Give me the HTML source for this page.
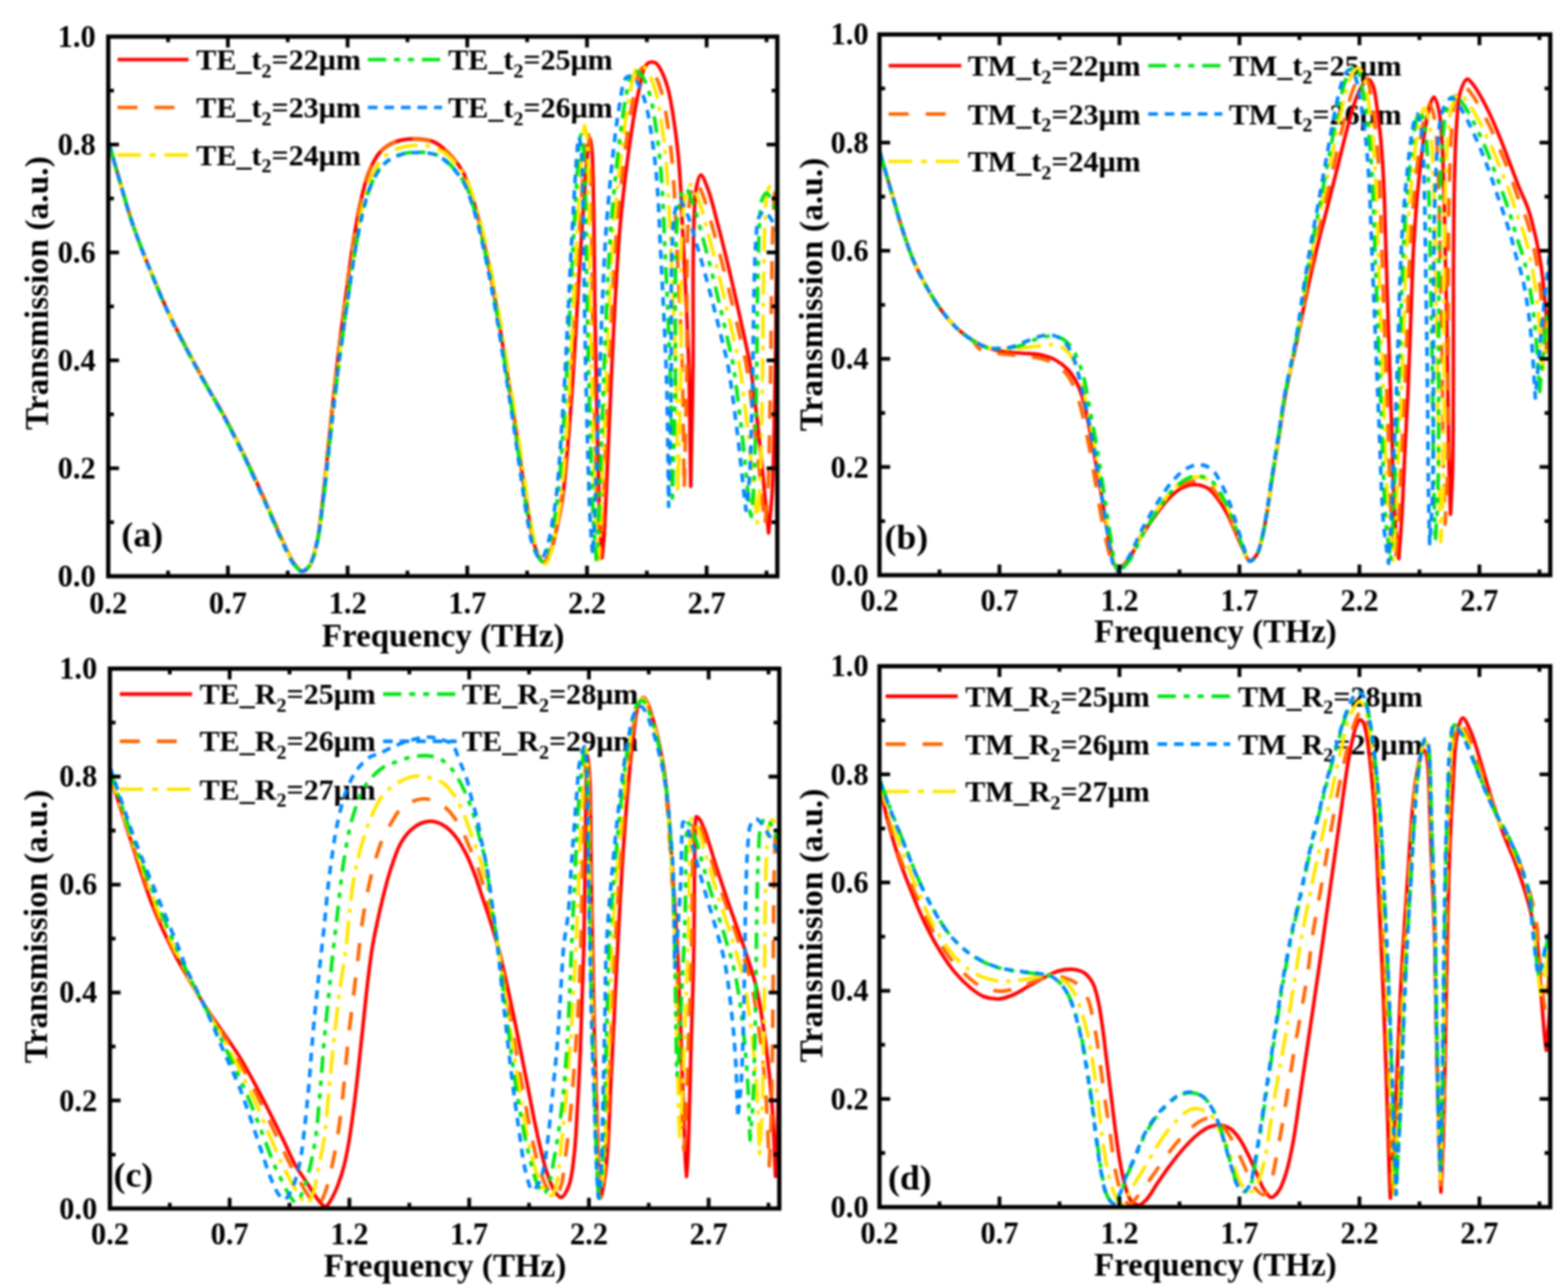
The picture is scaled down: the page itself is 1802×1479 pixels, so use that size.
<!DOCTYPE html>
<html lang="en">
<head>
<meta charset="utf-8">
<title>Transmission spectra: TE and TM modes versus t2 and R2</title>
<style>
html,body{margin:0;padding:0;background:#fff;}
body{width:1802px;height:1479px;overflow:hidden;}
svg{display:block;filter:blur(0.8px);}
</style>
</head>
<body>
<svg width="1802" height="1479" viewBox="0 0 1802 1479" role="img" aria-label="Transmission spectra, four panels (a)-(d)">
<defs>
<clipPath id="cpa"><rect x="124.4" y="40.1" width="768.9" height="624.1"/></clipPath>
<clipPath id="cpb"><rect x="1010.7" y="37.6" width="770.9" height="625.4"/></clipPath>
<clipPath id="cpc"><rect x="126.3" y="766.4" width="769.3" height="624.4"/></clipPath>
<clipPath id="cpd"><rect x="1010.7" y="763.6" width="770.9" height="625.6"/></clipPath>
</defs>
<rect width="1802" height="1479" fill="#fff"/>
<g id="panel-a">
<g id="legend-a">
<path d="M135 68.5H216.7" stroke="#ff0000" stroke-width="4.2" fill="none"/>
<text x="225.6" y="80.1" font-family="'Liberation Serif',serif" font-weight="bold" font-size="34.6" fill="#000">TE_t<tspan font-size="23" dy="8.5">2</tspan><tspan dy="-8.5">=22μm</tspan></text>
<path d="M135 123.5H216.7" stroke="#ff6600" stroke-width="4.2" fill="none" stroke-dasharray="23 19.5"/>
<text x="225.6" y="135.1" font-family="'Liberation Serif',serif" font-weight="bold" font-size="34.6" fill="#000">TE_t<tspan font-size="23" dy="8.5">2</tspan><tspan dy="-8.5">=23μm</tspan></text>
<path d="M135 178.1H216.7" stroke="#ffe600" stroke-width="4.2" fill="none" stroke-dasharray="27 10 7 10"/>
<text x="225.6" y="189.7" font-family="'Liberation Serif',serif" font-weight="bold" font-size="34.6" fill="#000">TE_t<tspan font-size="23" dy="8.5">2</tspan><tspan dy="-8.5">=24μm</tspan></text>
<path d="M422.8 68.5H508" stroke="#00e614" stroke-width="4.2" fill="none" stroke-dasharray="21 9 7 9 7 9"/>
<text x="515" y="80.1" font-family="'Liberation Serif',serif" font-weight="bold" font-size="34.6" fill="#000">TE_t<tspan font-size="23" dy="8.5">2</tspan><tspan dy="-8.5">=25μm</tspan></text>
<path d="M422.8 123.5H508" stroke="#0088ff" stroke-width="4.2" fill="none" stroke-dasharray="11 8"/>
<text x="515" y="135.1" font-family="'Liberation Serif',serif" font-weight="bold" font-size="34.6" fill="#000">TE_t<tspan font-size="23" dy="8.5">2</tspan><tspan dy="-8.5">=26μm</tspan></text>
</g>
<g clip-path="url(#cpa)" fill="none" stroke-width="4.1" stroke-linejoin="round">
<path d="M125 164C129.2 178.5 133.3 193.1 137.5 207.5C141.6 221.8 145.6 236.6 150 250C154 262.3 158.2 273.7 162.5 285C166.6 295.7 170.4 305 175 316C180.3 328.7 185.3 341.8 192.5 357C201.9 377 215.8 403.4 227.5 425C238.3 445.1 250.1 463.9 260 482.5C269.1 499.6 276.8 515.4 285 532.5C293.5 550.3 302.5 570.6 310 587.5C316.4 601.9 322.1 616.3 327.5 627.5C331.6 635.9 335 643.9 339 649C341.7 652.5 344.6 656.4 347.5 656.5C350.3 656.6 353.6 653.5 356 650C360 644.3 362.1 633.6 364.5 622.5C368 606.5 369.8 583.6 372.3 562.5C375 538.9 377.4 512.4 380 487.5C382.6 462.9 385.5 435.1 388 414C389.9 398 391.4 385.8 393.2 372C394.9 358.7 396.5 346.7 398.4 332.8C400.5 317 402.8 298.6 405.4 282C407.9 266 410.5 249.5 413.8 234.8C416.8 221.6 419.5 208.4 424 197.6C427.7 188.6 431.9 179.9 437.5 174C442.3 168.9 448.2 165.4 454.4 163C460.6 160.6 467.6 159.7 474.6 159.6C482.2 159.5 491.4 160.1 498.3 163C504.8 165.7 509.9 170.4 515.2 175.6C521.3 181.6 527.5 189.5 532 197.6C536.6 205.8 539.1 215.3 542.2 224.6C545.4 234.4 548 244.3 550.7 255C553.6 266.7 556.3 279.3 559 292C561.8 305.2 564.5 319.5 567 332.8C569.3 345.5 571.2 356.3 573.5 370C576.3 387 579.4 407.5 582.5 427C585.7 447.5 589.3 469.4 592.4 490C595.4 509.9 598 529.6 600.8 548.6C603.5 566.6 606.2 586.1 609 601C611.1 612.1 612.2 622 615.4 630C617.9 636.4 621.9 646 625 646C628.1 646 631.5 636.3 634 630C637.1 622.1 638.9 611.7 641 602C643.2 591.6 645 583.5 646.9 569.5C650.3 544.6 653.6 499.7 656.3 464.8C659 429.9 661.2 390.1 663 360C664.4 337.2 665.3 319.1 666.5 300C667.6 282.6 668.6 266.8 669.8 250C671 232.8 672.3 212.7 673.5 198C674.4 187.2 675 177.2 676 170C676.6 165.5 677.3 159 678 159C678.7 159 679.6 166.7 680.2 172C681.1 180.3 681.2 191.8 681.6 204C682.1 220.1 682.3 238.6 682.6 260C683 288.5 683.2 323.5 683.8 360C684.5 404.2 685.6 463.3 686.7 506.7C687.6 541.3 688.4 575.2 689.5 600C690.2 616.4 691.2 627.3 692 641C692.8 632.3 693.6 624.9 694.3 615C695.2 601.9 695.7 587.8 696.6 569.5C697.9 541.8 699.6 499.7 701.2 464.8C702.8 429.9 704.3 394.5 706.2 360C708.1 326.3 709.9 290.5 712.6 260C714.9 234.2 717.6 211.4 720.5 188.7C723.2 167.9 726.5 145.4 729.3 129C731.3 117.4 733.2 108.5 735.2 99.5C736.9 91.9 738.1 83.2 740.3 78.5C741.6 75.8 742.9 73.8 744.6 72.6C746 71.6 747.7 71.2 749.3 71.2C750.9 71.2 752.6 71.6 754 72.6C755.7 73.8 757 75.8 758.5 78.5C761.2 83.2 764.7 91.8 767 99.5C769.7 108.4 771.2 118.1 773 129C775.2 142.4 777.4 158.9 779 173.9C780.6 188.8 781.5 203.8 782.4 218.5C783.3 232.8 783.5 244.6 784.3 261C785.4 283.7 787.2 315.3 788.4 342C789.6 368.2 790.8 393.8 791.6 420C792.4 446.5 792.6 475.4 793 500C793.3 521.2 793.5 539.3 793.8 559C794.3 532.7 794.9 504.5 795.4 480C795.8 458.6 796.2 444.8 796.5 420C797 379.7 795.9 298.3 797.3 261C798.1 240.7 798.3 224.7 800.6 214C801.8 208.2 803.4 201.1 805.4 201C807.6 200.9 810.9 210.3 813.5 217C817.5 227.4 821.3 244 825 258C828.9 272.6 832.6 287.7 836.3 303C840.1 319 844 336.1 847.6 352C851 367.1 854.7 383.5 857.3 396C859.3 405.2 860.5 409.3 862.2 420C865.6 440.9 870.5 485.1 873.6 513.6C876.2 537.6 878.2 561.8 880 580C881.3 592.7 882.2 601.7 883.3 612.5C884.7 596.5 886.4 582.3 887.5 564.5C888.8 542.1 889.2 515 889.8 488.5C890.5 459.3 891.1 424.9 891.5 396.5C891.9 372.1 891.8 351.8 892.3 328.5C892.9 303.9 893.3 272.4 894.6 252.5C895.5 239.5 895.2 227.4 898 220.5C899.6 216.6 902.1 212.5 904.3 212.5C906.7 212.5 909.6 218.1 912 222C915 226.9 917.3 234 920 240" stroke="#ff0000"/>
<path d="M125 164C129.2 178.5 133.3 193.1 137.5 207.5C141.6 221.8 145.6 236.6 150 250C154 262.3 158.2 273.7 162.5 285C166.5 295.7 170.4 305 175 316C180.2 328.7 185.3 341.8 192.4 357C201.8 377 215.8 403.4 227.4 425C238.2 445.1 250 463.9 259.9 482.5C269 499.6 276.7 515.4 284.9 532.5C293.4 550.3 302.3 570.6 309.8 587.5C316.2 601.9 321.9 616.3 327.3 627.5C331.4 635.9 334.8 643.9 338.8 649C341.5 652.5 344.4 656.4 347.3 656.5C350.1 656.6 353.4 653.5 355.8 650C359.8 644.3 361.9 633.6 364.3 622.5C367.8 606.5 369.6 583.7 372.1 562.6C374.8 539 377.1 512.5 379.8 487.6C382.4 463 385.3 435.3 387.8 414.2C389.6 398.3 391.2 386 393 372.2C394.7 358.9 396.3 347 398.2 333.1C400.3 317.2 402.5 298.9 405.2 282.3C407.7 266.3 410.2 249.9 413.5 235.1C416.5 221.9 419.3 208.7 423.7 198C427.5 188.9 431.6 180.3 437.2 174.4C442 169.3 448 165.8 454.1 163.4C460.3 161 467.3 160.1 474.3 160C481.9 159.9 491.2 160.5 498.1 163.4C504.7 166.1 509.8 170.8 515.1 176C521.2 182 527.5 190 532 198C536.6 206.3 539.2 215.7 542.3 225.1C545.5 234.9 548.1 244.8 550.8 255.5C553.8 267.2 556.5 279.9 559.1 292.6C561.9 305.8 564.7 320.1 567.2 333.4C569.6 346.1 571.4 356.9 573.7 370.7C576.6 387.7 579.7 408.2 582.8 427.7C586 448.2 589.6 470.2 592.7 490.8C595.7 510.7 598.3 530.5 601.2 549.5C603.9 567.5 606.6 587.1 609.4 601.9C611.5 613.1 612.6 622.9 615.8 631C618.4 637.4 622.5 647.1 625.5 647C628.5 646.9 631.6 637 633.9 630.7C636.8 622.6 638.5 612 640.4 602.1C642.5 591.5 644.2 583.2 646 568.9C649.1 543.5 652.2 497.7 654.7 462.1C657.2 426.5 659.3 385.8 661 355.1C662.3 331.9 663.2 313.4 664.3 293.9C665.3 276.1 666.3 260 667.3 242.9C668.4 225.4 669.7 204.8 670.8 189.8C671.6 178.8 672.2 168.6 673.1 161.2C673.7 156.6 674.3 150 675 150C675.7 150 676.7 157.8 677.3 163.3C678.2 171.7 678.3 183.5 678.7 195.9C679.2 212.3 679.4 231.3 679.8 253.1C680.2 282.2 680.4 317.9 681 355.2C681.7 400.3 682.9 460.6 684 504.9C684.9 540.2 685.7 574.8 686.9 600.1C687.7 616.9 688.6 628 689.5 642C690.2 633.4 691 626 691.6 616.2C692.5 603.2 693 589.2 693.8 571C695 543.5 696.5 501.7 698 467.1C699.5 432.4 700.9 397.3 702.7 363.1C704.4 329.6 706.1 294.1 708.6 263.8C710.7 238.2 713.2 215.6 715.9 193C718.4 172.4 721.4 150.1 724.1 133.8C725.9 122.3 727.7 113.4 729.5 104.5C731.1 96.9 732.2 88.3 734.3 83.6C735.4 80.9 736.7 79 738.2 77.8C739.5 76.8 741.1 76.4 742.6 76.4C744.1 76.4 745.8 76.8 747.2 77.8C748.9 79 750.1 81 751.6 83.7C754.3 88.4 757.7 96.9 760 104.6C762.6 113.5 764.1 123.2 765.9 134.1C768.1 147.4 770.2 163.9 771.8 178.8C773.3 193.7 774.2 208.7 775.1 223.3C776 237.6 776.2 249.3 777 265.7C778 288.4 779.8 319.9 781 346.5C782.2 372.7 783.4 398.2 784.1 424.3C784.9 450.8 785.1 479.6 785.5 504.1C785.8 525.3 786 543.4 786.3 563C786.9 537 787.6 509.1 788.1 484.9C788.6 463.7 789 450.1 789.4 425.6C789.9 385.7 788.7 305.2 790.3 268.3C791.2 248.2 791.4 232.4 794 221.9C795.5 216.1 797.4 209.1 799.5 209C801.9 208.9 805.1 217.9 807.8 224.4C811.9 234.3 815.7 250.3 819.6 263.7C823.5 277.7 827.3 292.2 831.1 306.9C835 322.2 839 338.7 842.7 353.9C846.1 368.4 849.9 384.2 852.6 396.2C854.6 405 855.8 409 857.6 419.2C861.1 439.3 866.1 481.7 869.3 509.1C872 532.1 874 555.3 875.8 572.8C877.1 585 878.1 593.6 879.2 604C880.4 588.2 881.9 574.1 882.8 556.5C883.9 534.3 884.2 507.5 884.7 481.2C885.3 452.3 885.8 418.2 886.1 390.2C886.5 366 886.4 345.9 886.9 322.8C887.3 298.5 887.7 267.3 888.8 247.6C889.6 234.8 889.2 222.8 891.7 215.9C893 212.2 895.1 208 897 208C899 208 901.4 213.6 903.4 217.3C905.9 222.2 907.8 229.1 910 235" stroke="#ff6600" stroke-dasharray="21 19"/>
<path d="M125 164C129.2 178.5 133.3 193.1 137.5 207.5C141.6 221.8 145.6 236.6 149.9 250C153.9 262.3 158.1 273.7 162.4 285C166.5 295.7 170.3 305 174.9 316C180.2 328.7 185.2 341.8 192.3 357C201.7 377 215.6 403.4 227.3 425C238.1 445.1 249.8 463.9 259.7 482.5C268.8 499.6 276.5 515.4 284.6 532.5C293.1 550.3 302.1 570.6 309.6 587.5C316 601.9 321.6 616.3 327 627.5C331.1 635.9 334.5 643.9 338.5 649C341.3 652.5 344.1 656.4 347 656.5C349.9 656.6 353.3 653.6 355.8 650.1C359.9 644.5 362.2 633.9 364.7 623C368.3 607.2 370.2 584.7 372.8 563.9C375.6 540.7 378 514.5 380.8 490C383.5 465.8 386.5 438.4 389.1 417.6C391 401.9 392.6 389.8 394.5 376.2C396.2 363.1 397.9 351.3 399.9 337.6C402.1 322 404.4 303.9 407.1 287.6C409.8 271.8 412.4 255.6 415.9 241.1C419 228.1 421.8 215 426.4 204.4C430.3 195.5 434.7 187 440.5 181.2C445.5 176.1 451.7 172.7 458 170.3C464.5 167.9 471.8 167.1 479 167C486.5 166.9 495.5 167.5 502.2 170.4C508.6 173 513.6 177.7 518.8 182.8C524.8 188.7 530.9 196.6 535.3 204.6C539.8 212.7 542.3 222 545.3 231.3C548.4 240.9 551 250.8 553.6 261.3C556.5 272.9 559.2 285.4 561.8 297.9C564.5 311 567.2 325.1 569.6 338.3C571.9 350.8 573.8 361.5 576 375.1C578.8 391.8 581.8 412.2 584.8 431.4C588 451.7 591.5 473.3 594.5 493.7C597.5 513.4 600 532.9 602.8 551.7C605.4 569.4 608.1 588.8 610.8 603.5C612.9 614.5 613.9 624.2 617.1 632.2C619.6 638.5 623.6 648.1 626.5 648C629.4 647.9 632.1 637.9 634.2 631.4C636.9 623.3 638.4 612.5 640.2 602.5C642.2 591.7 643.7 583.3 645.3 568.8C648.2 543 651.1 496.6 653.4 460.5C655.7 424.3 657.5 383.2 659.1 352C660.3 328.5 661.1 309.7 662.1 289.9C663.1 271.9 664 255.6 665 238.2C666 220.4 667.1 199.5 668.1 184.4C668.9 173.2 669.4 162.8 670.3 155.4C670.8 150.7 671.3 144 672 144C672.7 144 673.8 152 674.4 157.5C675.4 166 675.6 178 676 190.6C676.5 207.2 676.7 226.5 677.1 248.6C677.6 278.1 677.8 314.3 678.4 352.1C679.2 397.9 680.4 459 681.6 504C682.6 539.8 683.5 574.9 684.7 600.6C685.6 617.6 686.6 628.9 687.5 643C688.2 634.4 688.9 627 689.5 617.1C690.3 604.2 690.7 590.1 691.4 571.9C692.6 544.3 694 502.5 695.4 467.8C696.8 433.1 698 397.9 699.7 363.6C701.3 330 702.9 294.5 705.2 264.1C707.1 238.5 709.5 215.8 712 193.2C714.3 172.6 717.1 150.2 719.5 133.9C721.3 122.4 722.9 113.5 724.6 104.5C726 97 727.1 88.4 729 83.7C730.1 81 731.2 79 732.7 77.8C733.8 76.9 735.3 76.4 736.7 76.4C738.1 76.4 739.8 76.8 741.2 77.8C742.8 79 744 81 745.4 83.7C748 88.5 751.3 97.1 753.5 104.9C756.1 113.9 757.5 123.6 759.2 134.6C761.4 148.1 763.4 164.7 764.9 179.8C766.4 194.8 767.3 209.9 768.2 224.7C769 239.1 769.2 250.9 770 267.5C771 290.3 772.7 322.1 773.9 349C775 375.5 776.2 401.2 776.9 427.6C777.6 454.2 777.9 483.3 778.2 508.1C778.6 529.4 778.7 547.7 779 567.5C779.7 541.4 780.5 513.4 781.1 489.1C781.6 467.8 782.1 454.1 782.5 429.5C783.1 389.4 781.7 308.6 783.5 271.6C784.5 251.4 784.9 235.5 787.8 224.9C789.4 219.1 791.8 212 794 212C796.4 212 799.4 220.8 801.9 227.1C805.9 236.9 809.6 252.6 813.2 265.9C817 279.7 820.6 293.9 824.3 308.4C828 323.5 831.8 339.7 835.3 354.7C838.7 369 842.2 384.5 844.8 396.3C846.7 405 847.9 408.9 849.6 419C853 438.8 857.7 480.5 860.8 507.5C863.4 530.2 865.3 553.1 867.1 570.3C868.3 582.3 869.2 590.8 870.3 601C871.4 585.4 872.8 571.7 873.6 554.3C874.7 532.5 875 506.2 875.5 480.4C876 452 876.5 418.5 876.8 390.9C877.1 367.2 877.1 347.5 877.5 324.8C877.9 300.9 878.2 270.3 879.3 250.9C880 238.3 879.7 226.5 882 219.8C883.2 216.1 885.2 212 887 212C889 212 891.4 217.8 893.4 221.7C895.9 226.7 897.8 233.9 900 240" stroke="#ffe600" stroke-dasharray="27 9 5 9"/>
<path d="M125 164C129.2 178.5 133.3 193.1 137.5 207.5C141.6 221.8 145.6 236.6 149.9 250C153.9 262.3 158.1 273.7 162.4 285C166.4 295.7 170.3 305 174.8 316C180.1 328.7 185.1 341.8 192.3 357C201.6 377 215.5 403.4 227.1 425C237.9 445.1 249.6 463.9 259.5 482.5C268.6 499.6 276.3 515.4 284.4 532.5C292.9 550.3 301.8 570.6 309.3 587.5C315.7 601.9 321.4 616.3 326.8 627.5C330.8 635.9 334.2 643.9 338.2 649C341 652.5 343.8 656.3 346.7 656.5C349.6 656.7 353.1 653.6 355.6 650.2C359.7 644.7 362 634.3 364.5 623.5C368.1 608 370.1 585.9 372.7 565.4C375.5 542.5 378 516.8 380.7 492.7C383.4 468.8 386.5 441.9 389.1 421.4C391 406 392.7 394 394.5 380.7C396.3 367.8 398 356.2 400 342.7C402.2 327.3 404.5 309.5 407.3 293.5C409.9 277.9 412.6 262 416.1 247.7C419.2 234.9 422.1 222 426.8 211.6C430.7 202.8 435.1 194.5 440.9 188.8C445.9 183.7 452.2 180.4 458.6 178.1C465.1 175.7 472.5 174.8 479.7 174.8C487.1 174.8 495.7 175.3 502.3 178.1C508.5 180.7 513.4 185.2 518.4 190.3C524.2 196.1 530.1 203.7 534.4 211.5C538.8 219.5 541.2 228.6 544.1 237.6C547.2 247.1 549.6 256.7 552.2 267C555 278.3 557.6 290.6 560.1 302.8C562.8 315.6 565.4 329.4 567.7 342.2C570 354.5 571.8 364.9 573.9 378.2C576.6 394.6 579.6 414.5 582.5 433.3C585.6 453.1 589 474.3 591.9 494.2C594.8 513.4 597.2 532.5 599.9 550.8C602.5 568.2 605.1 587.1 607.8 601.5C609.8 612.3 610.8 621.8 613.9 629.5C616.3 635.7 620.2 645.1 623 645C625.8 644.9 628.5 635.2 630.6 628.9C633.2 620.9 634.7 610.5 636.4 600.7C638.3 590.3 639.8 582.1 641.4 568C644.2 542.9 647 497.8 649.3 462.7C651.5 427.6 653.4 387.5 654.9 357.2C656.1 334.3 656.8 316.1 657.8 296.9C658.8 279.3 659.6 263.5 660.6 246.6C661.6 229.3 662.7 209 663.7 194.2C664.4 183.4 665 173.3 665.8 166.1C666.3 161.5 666.8 155 667.5 155C668.3 155 669.6 162.8 670.3 168.2C671.4 176.5 671.6 188.3 672.1 200.6C672.7 216.8 672.9 235.6 673.3 257.3C673.9 286.1 674.1 321.5 674.9 358.5C675.8 403.3 677.2 463.1 678.6 507C679.7 542.1 680.7 576.4 682.1 601.5C683.1 618.1 684.2 629.2 685.3 643C685.9 634.5 686.6 627.1 687.1 617.4C687.8 604.6 688.3 590.6 688.9 572.7C690 545.4 691.3 504 692.6 469.6C693.9 435.3 695 400.5 696.6 366.5C698 333.4 699.5 298.2 701.6 268.2C703.4 242.8 705.6 220.3 707.9 198C710 177.5 712.6 155.4 714.9 139.3C716.4 127.9 718 119.1 719.5 110.2C720.9 102.8 721.8 94.3 723.6 89.6C724.6 86.9 725.6 85 727 83.8C728.1 82.9 729.4 82.4 730.7 82.4C732.1 82.4 733.8 82.9 735.1 83.8C736.8 85 737.9 87.1 739.4 89.8C741.9 94.6 745.2 103.3 747.4 111.2C749.9 120.2 751.3 130.1 753 141.1C755.1 154.7 757.2 171.5 758.7 186.7C760.1 201.9 761 217.1 761.9 232.1C762.7 246.6 762.9 258.5 763.7 275.2C764.7 298.3 766.4 330.4 767.5 357.5C768.6 384.2 769.8 410.2 770.5 436.8C771.3 463.7 771.5 493 771.8 518.1C772.2 539.6 772.3 558 772.6 578C773.3 551.4 774 522.9 774.7 498.1C775.2 476.5 775.7 462.5 776.1 437.4C776.7 396.7 775.3 314.4 777.1 276.7C778.1 256.1 778.4 239.9 781.3 229.1C782.9 223.2 785.3 216.1 787.5 216C789.9 215.9 792.8 224.6 795.4 230.9C799.3 240.5 802.9 255.9 806.5 268.9C810.3 282.5 813.9 296.4 817.4 310.7C821.2 325.5 824.9 341.4 828.4 356.2C831.7 370.1 835.2 385.4 837.8 397C839.7 405.6 840.9 409.4 842.6 419.3C845.8 438.7 850.6 479.7 853.6 506.2C856.1 528.5 858.1 550.9 859.8 567.8C861 579.7 861.9 587.9 863 598C864.2 583 865.7 569.7 866.6 552.9C867.7 531.8 868 506.4 868.6 481.4C869.2 454 869.6 421.6 870 395C870.3 372 870.3 352.9 870.7 331C871.2 307.9 871.6 278.3 872.7 259.6C873.5 247.4 873.2 236 875.6 229.5C876.9 225.9 879.1 222 881 222C883.3 222.1 886.1 228.8 888.4 233.4C891.3 239.3 893.5 247.8 896 255" stroke="#00e614" stroke-dasharray="19 9 6 9 6 9"/>
<path d="M125 164C129.1 178.5 133.3 193.1 137.4 207.5C141.6 221.8 145.5 236.6 149.9 250C153.9 262.3 158.1 273.7 162.3 285C166.4 295.7 170.2 305 174.8 316C180 328.7 185.1 341.8 192.2 357C201.5 377 215.4 403.4 227 425C237.8 445.1 249.5 463.9 259.4 482.5C268.5 499.6 276.1 515.4 284.3 532.5C292.7 550.3 301.7 570.6 309.2 587.5C315.5 601.9 321.2 616.3 326.6 627.5C330.6 635.9 334 643.9 338 649C340.8 652.5 343.6 656.3 346.5 656.5C349.4 656.7 352.9 653.6 355.4 650.2C359.5 644.7 361.8 634.3 364.3 623.6C368 608.1 369.9 585.9 372.5 565.5C375.4 542.6 377.8 516.9 380.6 492.8C383.3 469 386.4 442 388.9 421.6C390.9 406.2 392.5 394.3 394.4 380.9C396.2 368.1 397.9 356.4 399.8 343C402.1 327.6 404.4 309.8 407.2 293.8C409.8 278.2 412.5 262.3 416 248C419.1 235.2 422 222.4 426.7 212C430.6 203.2 435 194.9 440.8 189.1C445.9 184.1 452.1 180.8 458.5 178.5C465.1 176.1 472.5 175.2 479.7 175.2C487.1 175.2 495.5 175.7 502.1 178.5C508.2 181 513 185.6 518 190.6C523.8 196.4 529.7 204 533.9 211.7C538.2 219.7 540.6 228.7 543.5 237.7C546.5 247.1 549 256.7 551.5 267C554.3 278.2 556.9 290.4 559.4 302.5C562 315.3 564.6 329 566.9 341.8C569.2 354 570.9 364.4 573.1 377.6C575.7 393.9 578.7 413.6 581.6 432.4C584.6 452.1 588 473.1 590.9 493C593.7 512.1 596.2 531.1 598.9 549.3C601.4 566.6 603.9 585.4 606.6 599.7C608.6 610.4 609.6 619.9 612.6 627.6C615 633.7 618.9 643.1 621.7 643C624.4 642.9 627.1 633.2 629.1 627C631.7 619.2 633.1 608.8 634.9 599.1C636.7 588.8 638.2 580.6 639.7 566.7C642.5 541.9 645.2 497.2 647.4 462.4C649.7 427.6 651.4 387.9 653 357.9C654.1 335.2 654.9 317.1 655.8 298.1C656.7 280.7 657.6 265 658.6 248.2C659.5 231.1 660.6 211 661.6 196.4C662.3 185.6 662.9 175.6 663.7 168.5C664.2 164 664.7 157.5 665.3 157.5C666 157.5 667.1 165.1 667.8 170.4C668.8 178.7 668.9 190.2 669.3 202.3C669.9 218.3 670.1 236.7 670.5 258C670.9 286.4 671.2 321.1 671.8 357.5C672.6 401.5 673.8 460.2 675.1 503.4C676 537.8 676.9 571.6 678.2 596.2C679 612.6 680.1 623.4 681 637C681.6 628.6 682.2 621.5 682.7 611.9C683.4 599.3 683.8 585.7 684.4 568.1C685.4 541.3 686.6 500.8 687.8 467.1C689 433.4 690.1 399.3 691.5 366.1C692.9 333.5 694.2 299.1 696.2 269.6C697.9 244.8 699.9 222.8 702 200.9C704 180.8 706.4 159.2 708.5 143.3C710 132.2 711.4 123.6 712.9 114.9C714.1 107.6 715 99.2 716.7 94.6C717.6 92.1 718.5 90.1 719.8 88.9C720.8 88.1 722 87.7 723.3 87.6C724.8 87.5 726.6 88 728.1 89C729.8 90.2 731.1 92.3 732.6 95C735.4 99.8 738.9 108.5 741.2 116.3C744 125.3 745.5 135.1 747.3 146.2C749.6 159.7 751.8 176.5 753.4 191.7C755 206.8 755.9 222 756.8 236.9C757.7 251.4 758 263.3 758.8 280C759.9 303 761.7 335 762.9 362.1C764.1 388.7 765.4 414.6 766.2 441.1C767 468 767.2 497.2 767.6 522.2C767.9 543.6 768.1 562.1 768.4 582C769 556.1 769.6 528.4 770.1 504.3C770.6 483.3 771 469.7 771.3 445.3C771.8 405.7 770.7 325.7 772.2 289C773 269 773.3 253.3 775.8 242.8C777.1 237.1 778.9 230.1 781 230C783.2 229.9 786.4 238 788.9 243.9C792.9 252.8 796.5 267.2 800.2 279.4C804 292.1 807.6 305.1 811.3 318.4C815 332.2 818.8 347.1 822.3 360.9C825.7 373.9 829.2 388.2 831.8 399C833.7 406.9 834.9 410.5 836.6 419.8C840 437.9 844.7 476.2 847.8 500.9C850.4 521.7 852.3 542.6 854.1 558.4C855.3 569.5 856.2 577.2 857.3 586.6C858.7 572.9 860.5 560.7 861.5 545.4C862.8 526.1 863.2 502.9 863.8 480.1C864.6 455 865.1 425.4 865.5 401.1C865.9 380.1 865.9 362.7 866.4 342.6C866.9 321.5 867.3 294.5 868.7 277.4C869.6 266.2 869.4 255.7 872.1 249.9C873.6 246.5 876.2 243 878.4 243C880.8 243 883.7 248.1 886.1 251.6C889 256.1 891.4 262.5 894 268" stroke="#0088ff" stroke-dasharray="10 8"/>
</g>
<path d="M193.2 662.2v-6.5M193.2 42.1v6.5M261.9 662.2v-12.3M261.9 42.1v12.3M330.7 662.2v-6.5M330.7 42.1v6.5M399.5 662.2v-12.3M399.5 42.1v12.3M468.3 662.2v-6.5M468.3 42.1v6.5M537 662.2v-12.3M537 42.1v12.3M605.8 662.2v-6.5M605.8 42.1v6.5M674.6 662.2v-12.3M674.6 42.1v12.3M743.4 662.2v-6.5M743.4 42.1v6.5M812.1 662.2v-12.3M812.1 42.1v12.3M880.9 662.2v-6.5M880.9 42.1v6.5M124.4 600.2h6.5M893.3 600.2h-6.5M124.4 538.2h12.3M893.3 538.2h-12.3M124.4 476.2h6.5M893.3 476.2h-6.5M124.4 414.2h12.3M893.3 414.2h-12.3M124.4 352.2h6.5M893.3 352.2h-6.5M124.4 290.1h12.3M893.3 290.1h-12.3M124.4 228.1h6.5M893.3 228.1h-6.5M124.4 166.1h12.3M893.3 166.1h-12.3M124.4 104.1h6.5M893.3 104.1h-6.5" stroke="#000" stroke-width="4.3" fill="none"/>
<rect x="124.4" y="42.1" width="768.9" height="620.1" fill="none" stroke="#000" stroke-width="4.9"/>
<g font-family="'Liberation Serif',serif" font-weight="bold" fill="#000">
<g font-size="35" text-anchor="end">
<text x="109.9" y="674">0.0</text>
<text x="109.9" y="550">0.2</text>
<text x="109.9" y="426">0.4</text>
<text x="109.9" y="301.9">0.6</text>
<text x="109.9" y="177.9">0.8</text>
<text x="109.9" y="53.9">1.0</text>
</g>
<g font-size="35" text-anchor="middle">
<text x="124.4" y="704.7">0.2</text>
<text x="261.9" y="704.7">0.7</text>
<text x="399.5" y="704.7">1.2</text>
<text x="537" y="704.7">1.7</text>
<text x="674.6" y="704.7">2.2</text>
<text x="812.1" y="704.7">2.7</text>
</g>
<text x="509.3" y="742.5" font-size="38" text-anchor="middle">Frequency (THz)</text>
<text transform="translate(54.9 336.7) rotate(-90)" font-size="38" text-anchor="middle" letter-spacing="0.2">Transmission (a.u.)</text>
<text x="139.5" y="627.5" font-size="41">(a)</text>
</g>
</g>
<g id="panel-b">
<g id="legend-b">
<path d="M1021.3 75.5H1104.8" stroke="#ff0000" stroke-width="4.2" fill="none"/>
<text x="1112.2" y="87.1" font-family="'Liberation Serif',serif" font-weight="bold" font-size="34.6" fill="#000">TM_t<tspan font-size="23" dy="8.5">2</tspan><tspan dy="-8.5">=22μm</tspan></text>
<path d="M1021.3 131H1104.8" stroke="#ff6600" stroke-width="4.2" fill="none" stroke-dasharray="23 19.5"/>
<text x="1112.2" y="142.6" font-family="'Liberation Serif',serif" font-weight="bold" font-size="34.6" fill="#000">TM_t<tspan font-size="23" dy="8.5">2</tspan><tspan dy="-8.5">=23μm</tspan></text>
<path d="M1021.3 185.5H1104.8" stroke="#ffe600" stroke-width="4.2" fill="none" stroke-dasharray="27 10 7 10"/>
<text x="1112.2" y="197.1" font-family="'Liberation Serif',serif" font-weight="bold" font-size="34.6" fill="#000">TM_t<tspan font-size="23" dy="8.5">2</tspan><tspan dy="-8.5">=24μm</tspan></text>
<path d="M1319.6 75.5H1404.8" stroke="#00e614" stroke-width="4.2" fill="none" stroke-dasharray="21 9 7 9 7 9"/>
<text x="1412.2" y="87.1" font-family="'Liberation Serif',serif" font-weight="bold" font-size="34.6" fill="#000">TM_t<tspan font-size="23" dy="8.5">2</tspan><tspan dy="-8.5">=25μm</tspan></text>
<path d="M1319.6 131H1404.8" stroke="#0088ff" stroke-width="4.2" fill="none" stroke-dasharray="11 8"/>
<text x="1412.2" y="142.6" font-family="'Liberation Serif',serif" font-weight="bold" font-size="34.6" fill="#000">TM_t<tspan font-size="23" dy="8.5">2</tspan><tspan dy="-8.5">=26μm</tspan></text>
</g>
<g clip-path="url(#cpb)" fill="none" stroke-width="4.1" stroke-linejoin="round">
<path d="M1011.2 175C1015.8 190.8 1020.5 207.1 1025 222.5C1029.3 237.1 1033.1 251.6 1037.5 265C1041.5 277.3 1045.3 288.9 1050 300C1054.5 310.5 1059.5 320.4 1065 330C1070.4 339.5 1076.3 349.3 1082.5 357.5C1088.1 364.9 1093.9 371.7 1100 377.5C1105.6 382.8 1111.5 387.3 1117.5 391C1123.2 394.5 1129.3 397.4 1135 399.5C1140.1 401.4 1144.3 402.5 1150 403.5C1157.2 404.8 1167.1 405.3 1175 406C1182 406.6 1188.6 406.2 1195 407.5C1201.1 408.8 1207.1 410.6 1212.5 413.5C1218 416.4 1223.3 420.5 1227.5 425C1231.6 429.4 1234.7 434.5 1237.5 440C1240.6 446 1242.9 453.1 1245 460C1247.1 467.1 1248.4 474.6 1250 482C1251.6 489.6 1253 496.8 1254.5 505C1256.3 514.6 1258.1 525.4 1260 536C1262 547.1 1264 558.5 1266 570C1268 581.8 1269.9 594.4 1272 606C1273.9 617 1275.6 629.2 1278 638C1279.8 644.3 1280.9 653.2 1284 654C1287 654.8 1292.1 648.6 1296 644C1301.6 637.3 1306.5 624.9 1312 616C1317.2 607.6 1322.5 599.5 1328 592C1333.2 584.9 1338.5 577.4 1344 572C1348.6 567.5 1353.1 563.5 1358 561C1362.5 558.7 1367.2 557.1 1372 557C1377.1 556.9 1383.4 558.3 1388 561C1392.8 563.8 1396.4 569.3 1400 574C1403.7 578.9 1406.8 584.1 1410 590C1413.6 596.6 1416.9 605 1420 612C1422.8 618.3 1425.2 624.4 1428 630C1430.5 635 1432.9 643.4 1436 644C1438.4 644.5 1441.8 641 1444 638C1447 633.9 1448.2 626.8 1450 620C1452.3 611.3 1454.1 600.7 1456 590C1458.2 577.6 1459.8 564.1 1462 550C1464.4 534.3 1467.3 516.7 1470 500C1472.7 483.3 1474.8 467.2 1478 450C1481.5 431.3 1486.2 411.3 1490.3 392C1494.4 372.7 1498.3 352.7 1502.4 334C1506.2 316.4 1510.1 299.3 1514 283C1517.6 268 1521.3 254.7 1525 240C1528.9 224.7 1532.9 208.8 1536.9 193C1540.9 177.1 1545 159.6 1549 145C1552.4 132.6 1555.7 119.9 1559.3 111C1561.8 104.9 1564.1 99.3 1567 96C1569 93.7 1571.7 91.1 1573.5 91.5C1575.6 92 1577.2 96.5 1578.5 100C1580.2 104.7 1580.6 110.4 1581.7 117.6C1583.4 128.8 1585.5 145.7 1586.9 160.7C1588.4 177.1 1589.4 193.1 1590.3 212.4C1591.5 236.7 1592.1 267 1593 295C1593.9 323.9 1594.8 352.2 1595.8 383C1596.9 416.9 1598.1 454.5 1599.3 490C1600.5 525.2 1601.2 567 1603 595C1604.2 613.8 1606 626.3 1607.5 642C1608.7 626.3 1609.9 612.5 1611 595C1612.3 572.9 1613.3 544.3 1614.5 520C1615.6 496.9 1616.9 476.3 1618 452.4C1619.2 425.4 1620.3 394.8 1621.4 366C1622.5 337.3 1623.2 306.9 1624.8 280C1626.2 256.1 1627.7 235 1630 212.4C1632.3 189.5 1635.8 160.3 1638.6 143.4C1640.3 133.5 1641.4 125.8 1643.5 120C1644.8 116.3 1646.6 111.4 1648 111.5C1649.6 111.6 1651.3 117.8 1652.5 122C1654.2 127.8 1654.9 134.2 1655.9 143.4C1657.6 159.8 1658.5 188.4 1659.3 212.4C1660.2 238.7 1660.4 267 1661 295C1661.6 323.9 1662.4 349.7 1663 383C1663.8 426.8 1664.4 496.7 1665.3 535C1665.8 558.2 1666.4 572.3 1667 591C1667.8 572.3 1668.9 560.2 1669.5 535C1670.8 482.9 1670.1 354.2 1670.5 295C1670.8 260.3 1670.8 238.7 1671.4 212.4C1672 188.4 1672.5 163 1674 143.4C1675.1 128.9 1675.4 115 1678.3 105.5C1680.2 99.3 1683.1 91.4 1686 90.9C1688.2 90.5 1690.8 94.6 1693.2 97.5C1696.7 101.7 1700.3 108.4 1703.7 114.4C1707.4 121 1710.8 128.1 1714.2 135.5C1717.9 143.5 1721.3 152.2 1724.8 160.8C1728.4 169.7 1731.9 179.1 1735.4 188.2C1738.9 197.4 1742.3 206.8 1745.9 215.7C1749.4 224.3 1753.4 232 1756.5 241C1759.9 250.8 1762.7 263.1 1764.9 272.6C1766.7 280.3 1767.9 286.7 1769.1 293.7C1770.3 300.7 1771.4 307.6 1772.3 314.8C1773.3 322.3 1774 329.8 1774.8 338C1775.7 347.4 1776.7 358.8 1777.5 368C1778.2 375.9 1778.8 382.7 1779.5 390C1780.3 373.3 1781.1 356.7 1782 340C1782.9 323.3 1784 306.7 1785 290" stroke="#ff0000"/>
<path d="M1011.2 175C1015.8 190.8 1020.5 207.1 1025 222.5C1029.3 237.1 1033.1 251.6 1037.5 265C1041.5 277.3 1045.3 288.9 1050 300C1054.5 310.5 1059.5 320.4 1065 330C1070.4 339.5 1076.3 349.3 1082.5 357.5C1088.1 364.9 1093.9 371.7 1100 377.5C1105.6 382.8 1113.1 386.6 1117.5 391C1120.8 394.2 1122 398.2 1125 400.5C1127.9 402.6 1131.3 403.5 1135 404.5C1139.4 405.7 1144.4 405.8 1150 406.5C1157.3 407.3 1166.7 407.9 1175 409C1183.3 410.1 1192.7 410.8 1200 413C1206.1 414.9 1211.3 417.1 1216 420.5C1220.6 423.8 1224.7 428.3 1228 433C1231.4 437.8 1233.7 443.3 1236 449C1238.4 455 1240.2 461.4 1242 468C1243.9 475 1245.4 482.4 1247 490C1248.7 498.1 1250.4 506.7 1252 515C1253.6 523.3 1255 531.1 1256.5 540C1258.3 550.2 1260.1 562 1262 573C1263.9 584 1265.9 595.6 1268 606C1269.9 615.5 1272 625.3 1274 633C1275.5 638.8 1276.7 644 1278.5 648C1279.8 650.9 1280.9 654.7 1283 655C1285.9 655.4 1291.3 649.3 1295.3 644.5C1301 637.5 1306 624.4 1311.6 615C1316.9 606.2 1322.4 597.7 1328 589.8C1333.3 582.4 1338.8 574.5 1344.4 568.8C1349 564 1353.6 559.9 1358.7 557.2C1363.2 554.8 1368.1 553.1 1373 553C1378.1 552.9 1384.2 554.4 1388.8 557.2C1393.5 560.2 1397 565.9 1400.6 570.9C1404.3 576 1407.3 581.5 1410.4 587.7C1413.9 594.7 1417.2 603.5 1420.2 610.8C1423 617.5 1425.4 623.9 1428.1 629.8C1430.6 635.1 1432.9 643.8 1436 644.5C1438.4 645 1441.8 641.5 1444 638.5C1446.9 634.4 1448.1 627.3 1449.9 620.5C1452.2 611.8 1454 601.2 1455.9 590.4C1458 578 1459.7 564.4 1461.9 550.3C1464.3 534.5 1467.2 516.9 1469.8 500.2C1472.5 483.5 1474.6 467.4 1477.8 450.1C1481.2 431.4 1486.1 411.5 1490 392C1493.9 372.4 1497.4 352 1501.2 332.9C1504.7 315.1 1508.3 297.6 1511.9 281C1515.3 265.8 1518.7 252.1 1522.1 237.2C1525.7 221.6 1529.4 205.4 1533.1 189.4C1536.8 173.2 1540.6 155.3 1544.3 140.5C1547.5 127.9 1550.5 115 1553.9 105.9C1556.2 99.6 1558.2 94 1561 90.6C1562.8 88.3 1565.2 85.7 1567 86C1569.1 86.4 1571 91.1 1572.4 94.6C1574.3 99.3 1574.7 105.1 1575.9 112.4C1577.8 123.7 1580.1 140.8 1581.6 156C1583.2 172.6 1584.3 188.8 1585.3 208.3C1586.6 232.9 1587.2 263.6 1588.2 291.9C1589.2 321.1 1590.2 349.8 1591.3 380.9C1592.5 415.3 1593.8 453.3 1595.1 489.2C1596.4 524.8 1597.1 567.1 1599.1 595.4C1600.4 614.5 1602.4 627.1 1604 643C1605.1 627.6 1606.4 613.9 1607.4 596.7C1608.7 574.9 1609.6 546.7 1610.7 522.7C1611.8 499.9 1613.1 479.7 1614.1 456.1C1615.3 429.4 1616.3 399.3 1617.4 370.9C1618.5 342.6 1619.1 312.7 1620.7 286.1C1622 262.6 1623.5 241.8 1625.7 219.5C1627.9 196.9 1631.2 168.1 1633.9 151.4C1635.5 141.7 1636.7 134.1 1638.7 128.4C1639.9 124.8 1641.6 119.9 1643 120C1644.5 120.1 1646.1 126.3 1647.2 130.6C1648.8 136.4 1649.5 142.8 1650.4 152.1C1652 168.6 1652.8 197.3 1653.6 221.5C1654.4 248 1654.6 276.5 1655.1 304.6C1655.7 333.7 1656.4 359.7 1657 393.2C1657.8 437.3 1658.3 507.6 1659.2 546.1C1659.7 569.5 1660.2 583.7 1660.8 602.5C1661.6 583.7 1662.8 571.4 1663.4 546C1664.8 493.4 1664 363.6 1664.5 303.9C1664.8 268.9 1664.8 247.1 1665.4 220.6C1666.1 196.3 1666.6 170.7 1668.2 151C1669.4 136.3 1669.7 122.3 1672.8 112.7C1674.8 106.4 1677.9 98.5 1681 98C1683.4 97.6 1686.3 101.9 1688.9 105C1692.7 109.4 1696.8 116.5 1700.5 122.9C1704.5 129.8 1708.3 137.4 1712.1 145.2C1716.1 153.7 1719.9 162.9 1723.7 172C1727.7 181.4 1731.8 191.4 1735.4 201C1738.9 210.3 1741.8 219.8 1745.2 228.8C1748.4 237.5 1752.2 245.3 1755.1 254.4C1758.2 264.3 1760.8 276.7 1762.9 286.3C1764.6 294.1 1765.7 300.5 1766.8 307.7C1768 314.7 1768.9 321.7 1769.8 329C1770.7 336.6 1771.4 344.1 1772.1 352.4C1773 361.9 1773.9 373.4 1774.6 382.8C1775.3 390.7 1775.9 397.6 1776.5 405C1777.6 392.5 1778.7 380 1779.9 367.5C1781.2 355 1782.6 342.5 1784 330" stroke="#ff6600" stroke-dasharray="21 19"/>
<path d="M1011.2 175C1015.8 190.8 1020.5 207.1 1025 222.5C1029.3 237.1 1033.1 251.6 1037.5 265C1041.5 277.3 1045.3 288.9 1050 300C1054.5 310.5 1059.5 320.4 1065 330C1070.4 339.5 1076.3 349.3 1082.5 357.5C1088.1 364.9 1093.9 371.7 1100 377.5C1105.6 382.8 1111.5 387.3 1117.5 391C1123.2 394.5 1129.2 397.9 1135 399.5C1140.1 400.9 1144.6 400.8 1150 401C1156.2 401.2 1163.3 401 1170 400.5C1176.7 400 1183.6 398.8 1190 398C1196 397.3 1202.2 395.7 1207.5 396C1212 396.3 1216.3 397 1220 399C1223.8 401 1227.2 404.2 1230 408C1233.4 412.5 1235.7 419 1238 425C1240.4 431.3 1242.1 437.8 1244 445C1246.2 453.3 1248 462.8 1250 472C1252.1 481.7 1254.1 491.5 1256 502C1258.1 513.4 1260 525.9 1262 538C1264 550.2 1266 562.7 1268 575C1270 587.3 1272 600.3 1274 612C1275.8 622.5 1277.4 634.1 1279.5 642C1280.9 647.3 1281.4 654.3 1284 655C1286.8 655.7 1292.4 649 1296.4 644C1302.2 636.6 1307.3 622.9 1313 613.1C1318.3 603.8 1323.8 594.9 1329.5 586.6C1334.9 578.8 1340.4 570.6 1346 564.5C1350.8 559.6 1355.4 555.2 1360.5 552.4C1365.1 549.9 1370.1 548 1375 548C1380 548 1385.9 549.5 1390.2 552.5C1394.9 555.6 1398.3 561.7 1401.7 567C1405.3 572.4 1408.2 578.3 1411.2 584.8C1414.6 592.2 1417.8 601.6 1420.8 609.3C1423.4 616.3 1425.7 623.2 1428.4 629.4C1430.8 635 1432.9 644.3 1436 645C1438.3 645.6 1441.8 642 1443.9 639C1446.9 634.8 1448.1 627.8 1449.8 620.9C1452.1 612.2 1453.9 601.6 1455.8 590.8C1457.9 578.4 1459.6 564.8 1461.7 550.6C1464.1 534.8 1467 517.2 1469.6 500.4C1472.3 483.7 1474.4 467.5 1477.5 450.2C1481 431.5 1486 411.6 1489.7 392C1493.5 372 1496.6 350.9 1500.1 331.4C1503.3 313 1506.6 295.1 1510 278.1C1513.1 262.5 1516.2 248.5 1519.4 233.2C1522.8 217.2 1526.2 200.5 1529.6 184.1C1533.1 167.4 1536.5 149.2 1540 133.9C1542.9 121 1545.7 107.7 1548.8 98.4C1551 92 1552.8 86.2 1555.4 82.7C1557.1 80.4 1559.2 77.8 1561 78C1563.1 78.3 1565.4 83.1 1566.9 86.7C1568.9 91.5 1569.4 97.4 1570.6 104.8C1572.6 116.3 1575.1 133.7 1576.8 149.1C1578.6 166 1579.7 182.5 1580.8 202.3C1582.2 227.3 1582.9 258.5 1583.9 287.2C1585 316.9 1586.1 346.1 1587.2 377.7C1588.5 412.6 1589.9 451.2 1591.4 487.7C1592.8 523.9 1593.5 566.9 1595.7 595.7C1597.2 615 1599.2 627.9 1601 644C1602 628.6 1603.2 615.1 1604.1 597.9C1605.3 576.3 1606.2 548.3 1607.2 524.4C1608.2 501.8 1609.4 481.6 1610.3 458.2C1611.4 431.7 1612.3 401.7 1613.4 373.5C1614.4 345.3 1615 315.6 1616.4 289.2C1617.6 265.7 1619 245.1 1621 222.9C1623.1 200.5 1626.1 171.8 1628.6 155.3C1630.1 145.6 1631.1 138 1633 132.3C1634.2 128.8 1635.7 124 1637 124C1638.5 124 1640.2 130.6 1641.4 134.9C1643.1 140.9 1643.9 147.6 1644.8 157.2C1646.5 174.2 1647.3 203.9 1648.2 228.9C1649.1 256.2 1649.2 285.7 1649.8 314.8C1650.4 344.8 1651.2 371.6 1651.8 406.3C1652.6 451.8 1653.2 524.5 1654.1 564.3C1654.6 588.4 1655.2 603.1 1655.8 622.5C1656.7 603.3 1657.9 590.8 1658.5 564.9C1660 511.3 1659.2 378.8 1659.7 318C1660 282.3 1660 260 1660.7 233C1661.3 208.3 1661.9 182.1 1663.6 162C1664.8 147.1 1665.1 132.7 1668.4 123C1670.5 116.6 1673.8 108.5 1677 108C1679.6 107.6 1682.6 112.3 1685.5 115.7C1689.6 120.6 1693.9 128.5 1697.9 135.5C1702.3 143.2 1706.3 151.6 1710.3 160.3C1714.7 169.6 1718.8 179.8 1722.9 189.9C1727.1 200.4 1731.7 211.6 1735.4 222C1738.8 231.5 1741.3 240.7 1744.4 249.7C1747.3 258.3 1750.8 266.1 1753.4 275.1C1756.3 285 1758.7 297.3 1760.6 306.9C1762.1 314.7 1763.1 321 1764.1 328.1C1765.2 335.2 1766.1 342.1 1766.9 349.4C1767.7 356.9 1768.3 364.4 1769 372.7C1769.8 382.1 1770.6 393.6 1771.3 402.9C1771.9 410.8 1772.4 417.6 1773 425C1774.5 410.8 1775.9 396.7 1777.5 382.5C1779.2 368.3 1781.2 354.2 1783 340" stroke="#ffe600" stroke-dasharray="27 9 5 9"/>
<path d="M1011.2 175C1015.8 190.8 1020.5 207.1 1025 222.5C1029.3 237.1 1033.1 251.6 1037.5 265C1041.5 277.3 1045.3 288.9 1050 300C1054.5 310.5 1059.5 320.4 1065 330C1070.4 339.5 1076.3 349.3 1082.5 357.5C1088.1 364.9 1093.9 371.7 1100 377.5C1105.6 382.8 1111.5 387.3 1117.5 391C1123.2 394.5 1129.2 398 1135 399.5C1140.1 400.8 1144.6 400.7 1150 400.5C1156.2 400.3 1163.4 399.7 1170 398C1176.8 396.3 1183.2 392 1190 390C1196.6 388 1204.2 385.6 1210 386C1214.6 386.3 1218.4 387.8 1222 390C1225.8 392.3 1229.1 395.9 1232 400C1235.3 404.7 1237.7 411.1 1240 417C1242.4 423.1 1244.2 428.7 1246 436C1248.4 445.6 1250.4 458.8 1252.5 470C1254.5 480.8 1256.6 491.2 1258.5 502C1260.4 512.9 1262.2 523.5 1264 535C1266 547.7 1268 561.7 1270 575C1272 588.3 1274 602.6 1276 615C1277.7 625.7 1279 637.5 1281 645C1282.2 649.6 1282.7 655.4 1285 656C1287.8 656.7 1293.4 649.9 1297.4 644.8C1303.2 637.3 1308.3 623.3 1314 613.3C1319.3 603.9 1324.8 594.8 1330.5 586.3C1335.9 578.4 1341.4 570 1347 563.9C1351.7 558.8 1356.4 554.3 1361.5 551.5C1366.1 549 1371.1 547 1376 547C1381 547 1386.7 548.6 1391 551.5C1395.6 554.7 1398.9 560.9 1402.2 566.1C1405.8 571.7 1408.7 577.6 1411.6 584.2C1415 591.7 1418.1 601.1 1421 609C1423.7 616 1425.9 623 1428.5 629.2C1430.9 634.9 1432.9 644.3 1436 645C1438.3 645.6 1441.7 642 1443.9 639C1446.8 634.8 1448 627.8 1449.8 620.9C1452 612.2 1453.8 601.6 1455.7 590.8C1457.8 578.4 1459.4 564.8 1461.6 550.6C1464 534.8 1466.8 517.2 1469.4 500.4C1472.1 483.7 1474.2 467.5 1477.3 450.2C1480.7 431.5 1485.8 411.7 1489.4 392C1493.1 372 1495.8 350.8 1499.1 331.2C1502.1 312.8 1505.2 294.8 1508.4 277.7C1511.3 262.1 1514.2 248 1517.2 232.7C1520.3 216.6 1523.5 199.9 1526.7 183.4C1529.9 166.7 1533.1 148.4 1536.4 133.1C1539.1 120.2 1541.7 106.8 1544.6 97.4C1546.6 91.1 1548.4 85.3 1550.8 81.7C1552.4 79.4 1554.3 76.8 1556 77C1558.1 77.2 1560.6 82.1 1562.2 85.8C1564.3 90.6 1564.8 96.5 1566.1 103.9C1568.2 115.5 1570.8 132.9 1572.6 148.4C1574.4 165.3 1575.6 181.9 1576.8 201.7C1578.2 226.8 1579 258.1 1580.1 287C1581.2 316.8 1582.3 346 1583.5 377.8C1584.9 412.8 1586.4 451.5 1587.9 488.2C1589.3 524.5 1590.2 567.6 1592.4 596.5C1594 615.9 1596.1 628.8 1598 645C1599 629.7 1600 616.2 1600.9 599.2C1602.1 577.7 1602.9 549.8 1603.9 526.1C1604.8 503.6 1605.9 483.5 1606.8 460.2C1607.8 433.9 1608.7 404.1 1609.7 376C1610.6 348.1 1611.2 318.5 1612.5 292.2C1613.7 268.9 1615 248.4 1616.9 226.3C1618.8 204 1621.7 175.6 1624.1 159.1C1625.5 149.4 1626.5 141.9 1628.2 136.3C1629.3 132.8 1630.8 128 1632 128C1633.4 128 1635 134.5 1636.1 138.8C1637.7 144.8 1638.4 151.4 1639.3 160.9C1640.8 177.8 1641.6 207.3 1642.4 232.1C1643.3 259.2 1643.4 288.4 1644 317.2C1644.5 347 1645.2 373.6 1645.8 408C1646.6 453.1 1647.1 525.3 1647.9 564.7C1648.4 588.7 1649 603.2 1649.5 622.5C1650.5 603.4 1651.7 590.9 1652.5 565.1C1654 511.7 1653.1 379.8 1653.6 319.2C1654 283.6 1654 261.5 1654.7 234.5C1655.4 209.9 1656 183.8 1657.8 163.8C1659.1 148.9 1659.5 134.6 1662.9 125C1665.2 118.5 1668.7 110.4 1672 110C1674.9 109.7 1678.1 115.2 1681.2 119.2C1685.7 125.1 1690.4 134.4 1694.7 142.8C1699.4 152 1703.8 162 1708.2 172.3C1712.9 183.5 1717.3 195.6 1721.8 207.7C1726.4 220.2 1731.6 234.2 1735.4 246C1738.6 256 1740.7 264.7 1743.5 273.8C1746.2 282.5 1749.3 290.3 1751.7 299.4C1754.3 309.4 1756.5 321.7 1758.2 331.3C1759.6 339.1 1760.5 345.5 1761.5 352.7C1762.4 359.8 1763.2 366.7 1763.9 374C1764.7 381.6 1765.2 389.1 1765.9 397.4C1766.6 406.9 1767.3 418.4 1768 427.8C1768.5 435.7 1769 442.6 1769.5 450C1771.4 430 1773.1 410 1775.2 390C1777.3 370 1779.7 350 1782 330" stroke="#00e614" stroke-dasharray="19 9 6 9 6 9"/>
<path d="M1011.2 175C1015.8 190.8 1020.5 207.1 1025 222.5C1029.3 237.1 1033.1 251.6 1037.5 265C1041.5 277.3 1045.3 288.9 1050 300C1054.5 310.5 1059.5 320.4 1065 330C1070.4 339.5 1076.3 349.3 1082.5 357.5C1088.1 364.9 1093.9 371.7 1100 377.5C1105.6 382.8 1111.5 387.3 1117.5 391C1123.2 394.5 1129.2 398 1135 399.5C1140.1 400.8 1145 400.7 1150 400.5C1155 400.3 1160.1 399.4 1165 398C1170.1 396.6 1175 393.9 1180 392C1185 390.1 1190.5 387.7 1195 386.5C1198.6 385.6 1201.7 384.9 1205 385C1208.3 385.1 1211.8 385.5 1215 387C1218.5 388.7 1222.1 391.6 1225 395C1228.2 398.8 1230.8 403.9 1233 409C1235.4 414.5 1236.8 420.6 1238.5 427C1240.5 434.2 1242.2 442 1244 450C1246 458.6 1248.1 467.7 1250 477C1252.1 487 1254.1 497.3 1256 508C1258.1 519.3 1260 531 1262 543C1264.1 555.6 1266 569.1 1268 582C1270 594.8 1272.1 608.7 1274 620C1275.6 629.2 1276.9 638.4 1278.5 645C1279.6 649.5 1279.8 655.4 1282 656C1284.7 656.7 1290.9 649.1 1295.1 643.4C1301.3 635 1306.5 619.4 1312.5 608.2C1318.2 597.7 1324 587.5 1330 578C1335.6 569.1 1341.4 559.7 1347.5 552.9C1352.4 547.2 1357.3 542.2 1362.7 539C1367.5 536.2 1373 533.9 1378 534C1382.9 534 1388.4 535.9 1392.5 539.1C1397.1 542.7 1400.1 549.7 1403.4 555.7C1406.8 562 1409.6 568.7 1412.4 576.1C1415.7 584.6 1418.7 595.3 1421.5 604.2C1424.1 612.2 1426.2 620 1428.8 627.1C1431 633.5 1432.9 644.2 1436 645C1438.2 645.6 1441.7 642 1443.8 639C1446.7 634.8 1447.9 627.8 1449.7 620.9C1451.9 612.2 1453.7 601.6 1455.5 590.8C1457.6 578.4 1459.2 564.8 1461.4 550.6C1463.8 534.8 1466.6 517.2 1469.2 500.4C1471.8 483.7 1473.9 467.5 1477 450.2C1480.4 431.5 1485.5 411.6 1489 392C1492.5 372.1 1495 351.2 1498 331.8C1500.9 313.6 1503.7 295.7 1506.7 278.8C1509.4 263.3 1512.1 249.4 1514.9 234.2C1517.8 218.3 1520.8 201.7 1523.7 185.4C1526.7 168.9 1529.7 150.7 1532.7 135.5C1535.3 122.7 1537.7 109.6 1540.4 100.2C1542.3 93.9 1543.9 88.2 1546.2 84.7C1547.6 82.4 1549.3 79.9 1551 80C1553.1 80.2 1555.9 85.1 1557.6 88.8C1559.8 93.5 1560.4 99.5 1561.8 106.9C1564 118.4 1566.8 135.8 1568.6 151.3C1570.6 168.3 1571.9 184.8 1573.1 204.6C1574.7 229.7 1575.5 261 1576.7 289.8C1577.9 319.5 1579 348.8 1580.4 380.5C1581.8 415.5 1583.4 454.2 1585 490.8C1586.5 527.1 1587.4 570.2 1589.8 599C1591.4 618.4 1593.8 631.3 1595.8 647.5C1596.7 632.2 1597.8 618.8 1598.6 601.7C1599.7 580.2 1600.5 552.4 1601.5 528.7C1602.4 506.2 1603.5 486.2 1604.4 462.9C1605.4 436.6 1606.2 406.8 1607.2 378.8C1608.1 350.8 1608.7 321.3 1610 295.1C1611.1 271.8 1612.4 251.3 1614.2 229.2C1616.1 206.9 1619 178.5 1621.3 162.1C1622.6 152.4 1623.6 144.9 1625.3 139.3C1626.4 135.7 1627.9 130.9 1629 131C1630.2 131.1 1631.4 137.5 1632.3 141.8C1633.6 147.8 1634.1 154.4 1634.8 163.9C1636.1 180.8 1636.7 210.2 1637.3 235C1638 262 1638.1 291.2 1638.6 320C1639 349.8 1639.6 376.4 1640.1 410.7C1640.7 455.8 1641.1 527.9 1641.7 567.3C1642.1 591.2 1642.6 605.8 1643 625C1644.1 605.9 1645.5 593.4 1646.3 567.6C1648 514.2 1647 382.2 1647.6 321.6C1647.9 286 1647.9 263.9 1648.8 236.9C1649.6 212.3 1650.3 186.2 1652.2 166.2C1653.7 151.3 1654.1 137 1657.9 127.4C1660.4 120.8 1664.5 112.7 1668 112.4C1671.2 112.2 1674.5 118.4 1677.8 123C1682.6 129.7 1687.6 140.4 1692.1 150.1C1697.2 160.6 1701.9 172 1706.5 183.9C1711.5 196.7 1716.2 210.6 1720.9 224.5C1725.8 238.8 1731.6 255.7 1735.4 268.4C1738.3 278.1 1740 285.8 1742.3 294.2C1744.6 302.3 1747.3 309.5 1749.3 317.9C1751.6 327.1 1753.4 338.6 1754.9 347.5C1756.1 354.7 1756.8 360.7 1757.6 367.3C1758.5 373.8 1759.1 380.3 1759.7 387C1760.4 394.1 1760.9 401.1 1761.4 408.8C1762 417.5 1762.6 428.2 1763.2 436.9C1763.7 444.3 1764.1 450.6 1764.5 457.5C1767 429.6 1769.3 401.7 1772 373.8C1774.8 345.8 1778 317.9 1781 290" stroke="#0088ff" stroke-dasharray="10 8"/>
</g>
<path d="M1079.7 661v-6.5M1079.7 39.6v6.5M1148.6 661v-12.3M1148.6 39.6v12.3M1217.6 661v-6.5M1217.6 39.6v6.5M1286.5 661v-12.3M1286.5 39.6v12.3M1355.5 661v-6.5M1355.5 39.6v6.5M1424.4 661v-12.3M1424.4 39.6v12.3M1493.4 661v-6.5M1493.4 39.6v6.5M1562.3 661v-12.3M1562.3 39.6v12.3M1631.3 661v-6.5M1631.3 39.6v6.5M1700.2 661v-12.3M1700.2 39.6v12.3M1769.2 661v-6.5M1769.2 39.6v6.5M1010.7 598.9h6.5M1781.6 598.9h-6.5M1010.7 536.7h12.3M1781.6 536.7h-12.3M1010.7 474.6h6.5M1781.6 474.6h-6.5M1010.7 412.4h12.3M1781.6 412.4h-12.3M1010.7 350.3h6.5M1781.6 350.3h-6.5M1010.7 288.2h12.3M1781.6 288.2h-12.3M1010.7 226h6.5M1781.6 226h-6.5M1010.7 163.9h12.3M1781.6 163.9h-12.3M1010.7 101.7h6.5M1781.6 101.7h-6.5" stroke="#000" stroke-width="4.3" fill="none"/>
<rect x="1010.7" y="39.6" width="770.9" height="621.4" fill="none" stroke="#000" stroke-width="4.9"/>
<g font-family="'Liberation Serif',serif" font-weight="bold" fill="#000">
<g font-size="35" text-anchor="end">
<text x="998.2" y="672.8">0.0</text>
<text x="998.2" y="548.5">0.2</text>
<text x="998.2" y="424.2">0.4</text>
<text x="998.2" y="300">0.6</text>
<text x="998.2" y="175.7">0.8</text>
<text x="998.2" y="51.4">1.0</text>
</g>
<g font-size="35" text-anchor="middle">
<text x="1010.7" y="702.3">0.2</text>
<text x="1148.6" y="702.3">0.7</text>
<text x="1286.5" y="702.3">1.2</text>
<text x="1424.4" y="702.3">1.7</text>
<text x="1562.3" y="702.3">2.2</text>
<text x="1700.2" y="702.3">2.7</text>
</g>
<text x="1396.7" y="737.5" font-size="38" text-anchor="middle">Frequency (THz)</text>
<text transform="translate(945.2 338.3) rotate(-90)" font-size="38" text-anchor="middle" letter-spacing="0.2">Transmission (a.u.)</text>
<text x="1016.5" y="631" font-size="41">(b)</text>
</g>
</g>
<g id="panel-c">
<g id="legend-c">
<path d="M137.7 797.6H220.8" stroke="#ff0000" stroke-width="4.2" fill="none"/>
<text x="229.3" y="809.2" font-family="'Liberation Serif',serif" font-weight="bold" font-size="34.6" fill="#000">TE_R<tspan font-size="23" dy="8.5">2</tspan><tspan dy="-8.5">=25μm</tspan></text>
<path d="M137.7 851.8H220.8" stroke="#ff6600" stroke-width="4.2" fill="none" stroke-dasharray="23 19.5"/>
<text x="229.3" y="863.4" font-family="'Liberation Serif',serif" font-weight="bold" font-size="34.6" fill="#000">TE_R<tspan font-size="23" dy="8.5">2</tspan><tspan dy="-8.5">=26μm</tspan></text>
<path d="M137.7 907H220.8" stroke="#ffe600" stroke-width="4.2" fill="none" stroke-dasharray="27 10 7 10"/>
<text x="229.3" y="918.6" font-family="'Liberation Serif',serif" font-weight="bold" font-size="34.6" fill="#000">TE_R<tspan font-size="23" dy="8.5">2</tspan><tspan dy="-8.5">=27μm</tspan></text>
<path d="M440.3 797.6H524.8" stroke="#00e614" stroke-width="4.2" fill="none" stroke-dasharray="21 9 7 9 7 9"/>
<text x="531" y="809.2" font-family="'Liberation Serif',serif" font-weight="bold" font-size="34.6" fill="#000">TE_R<tspan font-size="23" dy="8.5">2</tspan><tspan dy="-8.5">=28μm</tspan></text>
<path d="M440.3 851.8H524.8" stroke="#0088ff" stroke-width="4.2" fill="none" stroke-dasharray="11 8"/>
<text x="531" y="863.4" font-family="'Liberation Serif',serif" font-weight="bold" font-size="34.6" fill="#000">TE_R<tspan font-size="23" dy="8.5">2</tspan><tspan dy="-8.5">=29μm</tspan></text>
</g>
<g clip-path="url(#cpc)" fill="none" stroke-width="4.1" stroke-linejoin="round">
<path d="M126.2 890C134.2 915 141.9 940 150 965C158.1 990 166.3 1017.7 175 1040C182.2 1058.6 191.3 1077.4 197.5 1090C201.4 1097.9 203.1 1101.2 207.5 1109C214.7 1121.8 226.7 1142.1 237.5 1159C249.1 1177.1 264.1 1196.3 275 1214C284.6 1229.5 291.8 1243.5 300 1259C308.5 1275.1 317.8 1294.3 325 1309C330.7 1320.5 334.8 1330.9 340 1340C344.3 1347.6 349.4 1353.9 353.3 1360C356.6 1365.1 358.6 1369.6 362 1374C365.5 1378.5 370.4 1386.8 374 1386.5C377.5 1386.2 380.9 1377.6 383.5 1373C385.9 1368.7 387.2 1364.8 389 1360C391.2 1354.1 393.4 1347.3 395.3 1340C397.5 1331.5 399.2 1322.7 401 1312C403.4 1297.8 405.7 1280.2 408 1262C410.7 1240.2 413.4 1213.4 416 1190C418.4 1167.8 420.7 1143.6 423 1125C424.7 1110.9 425.8 1101.1 428 1088C430.6 1073 434.5 1055 438 1040C441.2 1026.6 444.2 1014 448 1002C451.6 990.8 455.3 978.6 460 970C463.6 963.4 467.6 958.1 472 954C475.7 950.5 479.6 947.7 484 946C488.3 944.4 493.4 943.4 498 944C502.8 944.6 507.8 947.1 512 950C516.5 953 520.3 957.2 524 962C528.4 967.6 532.4 974.9 536 982C539.8 989.5 543 997.9 546 1006C549 1013.9 551.3 1022 554 1030C556.7 1038 559.4 1045.8 562 1054C564.7 1062.5 567.9 1073 570 1080C571.4 1084.8 572 1086.3 573.5 1092C577.1 1106.1 584.9 1141.6 590 1166C595 1189.6 599.3 1212.7 604 1236C608.7 1259.3 613.5 1286 618 1306C621.4 1321.2 624.2 1334.5 628 1346C631 1355.1 634.3 1364.9 638 1370C640.2 1373 642.7 1376.3 645 1376C648.1 1375.5 651.7 1368.1 654 1362C657.5 1353 658.4 1339.6 660 1326C662 1308.6 662.8 1286 664 1266C665.2 1246 666.2 1226 667 1206C667.8 1186 668.3 1166 669 1146C669.7 1126 670.4 1109.1 671 1086C671.8 1054.6 672.2 1008.4 672.7 975C673.1 947.6 673.1 919.8 673.8 900C674.2 887.1 674.8 868 675.5 868C676.2 868 677.4 886.4 678 900C679.1 924.1 679 967.9 679.5 1000C680 1029.7 680.4 1056.3 681 1086C681.6 1118.1 682.2 1154.5 683 1186C683.7 1214.2 684.7 1239.3 685.5 1266C686.3 1292.7 687 1325.5 688 1346C688.6 1358.7 688.7 1376.9 690 1377C691 1377.1 692.8 1366.7 694 1360C695.6 1350.6 696.8 1339.7 698 1326C699.8 1305 700.7 1272.7 702 1246C703.3 1219.3 704.7 1192.7 706 1166C707.3 1139.3 708.5 1113.4 710 1086C711.5 1057 713.1 1026.1 715 996.5C716.9 967.4 719.1 936.8 721.4 910C723.4 886.8 725.5 863.6 728 845C729.9 830.9 731.1 815 734.4 808C735.9 804.7 738.1 801.5 739.8 801.6C741.5 801.7 743.1 805.6 744.5 808.5C746.5 812.4 747.9 818.3 749.5 823.5C751.2 829.2 753 835.3 754.5 841.5C756.1 848.1 757.6 854.9 759 862C760.5 869.7 762.1 877.4 763.4 886C764.9 895.9 765.9 907.1 767 918C768.1 929.4 768.9 940.7 769.8 953C770.8 966.7 771.6 981.2 772.6 996.5C773.7 1013.6 774.9 1033.5 776 1050.6C777 1066.1 777.9 1076.7 778.8 1095C780.3 1124.4 781.9 1171.3 783.3 1210C784.8 1249.6 786.3 1306 787.5 1330C788 1340.3 788.5 1344.7 789 1352C789.5 1344.7 790 1340.3 790.5 1330C791.7 1306 792.9 1249.1 794 1210C795.1 1172.5 796.5 1136.1 797.2 1100C797.9 1065 797.8 1023.3 798.2 996.5C798.4 979.6 798.6 964.9 798.9 955C799.1 949.4 799.1 944.9 799.5 942C799.7 940.4 799.7 938.7 800.4 938.5C801.1 938.3 802.8 940 804 941.5C806.1 944.3 808.2 949.9 810.2 955C812.6 961.2 814.8 968.9 817 976C819.3 983.2 821 989.3 823.8 998C828 1010.9 834.5 1030.2 840 1046C845.3 1061.5 851.2 1076.7 856.2 1092C861.1 1107 865.9 1120.4 869.7 1137C874.3 1156.8 877.6 1180.9 880.5 1203C883.4 1225.2 885.6 1246.5 887.3 1270C889.2 1295.9 889.9 1324.7 891.2 1352C891.9 1335.5 892.8 1320.9 893.4 1302.6C894.1 1279.5 894.4 1251.6 894.7 1224.3C895.1 1194.2 895.4 1158.7 895.7 1129.5C895.9 1104.4 895.9 1083.5 896.2 1059.5C896.5 1034.1 896.7 1001.7 897.5 981.2C898 967.9 897.7 955.5 899.4 948.2C900.3 944.5 901.5 940.1 903 940C904.7 939.9 907.1 946.2 909 950C911.2 954.4 913 960 915 965" stroke="#ff0000"/>
<path d="M126.2 889C130.6 902.5 134.9 916.1 139.2 929.6C143.6 943.1 147.8 956.7 152.3 970.2C156.7 983.7 161.3 997.1 166 1010.5C170.8 1023.9 175.6 1037.3 180.9 1050.4C186.3 1063.5 192 1076.6 198.3 1089.3C204.5 1102 211.4 1114.5 218.4 1126.8C225.3 1139.2 232.6 1151.4 240 1163.5C247.4 1175.6 255.5 1187.2 262.8 1199.3C270.1 1211.5 277.1 1223.8 283.8 1236.3C290.5 1248.8 296.8 1261.5 303.1 1274.3C309.3 1287 315 1300.1 321.2 1312.8C327.4 1325.5 333.1 1338.6 340.4 1350.7C347.7 1362.7 359.1 1385.2 365 1385C368.5 1384.9 370.7 1377.3 373 1372C376 1365.1 377.8 1355.9 380 1346.5C382.7 1335.2 385.3 1322.4 387.5 1309C390 1293.6 392 1276.6 394 1259C396.2 1239.3 397.8 1217.3 400 1196.5C402.3 1175.7 405.5 1150.9 407.5 1134C408.9 1122.5 409.6 1116.1 411 1105C412.8 1090.1 414.7 1069.7 417.5 1052.5C420.2 1035.6 423.5 1018.1 427.5 1002.5C431.1 988.5 435.5 973.4 440 963C443.2 955.6 446.5 950.7 450 945C453.2 939.7 455.9 934 460 930C463.9 926.1 469.3 923 474 921C478 919.3 482 918.2 486 918C490 917.8 493.9 918.4 498 920C503.1 921.9 509.1 925.4 514 930C519.9 935.5 525.9 944.8 530 952C533.5 958.1 535.2 963.6 538 970C541.2 977.4 545 985.8 548 994C551 1002.4 553.4 1011 556 1020C558.8 1029.6 561.4 1039.6 564 1050C566.8 1061.2 569.2 1070.9 572 1085C576.3 1106.4 581.5 1140 586 1166C590.2 1190.2 593.8 1212.7 598 1236C602.2 1259.3 606.6 1286 611 1306C614.3 1321.2 617.1 1334.6 621 1346C624 1354.9 627.3 1364.1 631 1369C633.2 1372 635.9 1375.4 638 1375C640.7 1374.5 643.2 1367.3 645 1362C647.4 1355 647.6 1346.1 649 1336C650.9 1322 653.2 1303.4 655 1286C656.9 1266.9 658.5 1246 660 1226C661.5 1206 662.8 1186 664 1166C665.2 1146 666.2 1128.8 667 1106C668.1 1075.7 668.7 1032.9 669.5 1000C670.2 971.5 670.7 944.4 671.5 920C672.2 899.4 673 863 674 863C674.8 863 676 881.5 676.7 895.3C677.9 919.6 677.7 963.9 678.3 996.3C678.8 1026.3 679.3 1053.1 679.9 1083.1C680.5 1115.5 681.2 1152.3 682 1184.1C682.8 1212.6 683.8 1238 684.7 1264.9C685.6 1291.8 686.3 1325 687.4 1345.7C688 1358.6 688.3 1376.9 689.5 1377C690.4 1377.1 692 1366.7 693 1360C694.4 1350.6 695.5 1339.7 696.5 1326C698 1305 698.8 1272.7 700 1246C701.2 1219.3 702.3 1192.7 703.5 1166C704.7 1139.3 705.6 1113.4 707 1086C708.5 1057 710.4 1026.2 712.5 996.6C714.5 967.6 716.9 937 719.4 910.2C721.7 887.1 723.9 863.9 726.6 845.3C728.7 831.3 730.1 815.4 733.6 808.4C735.3 805 737.7 801.9 739.5 802C741.2 802.1 742.7 806 744.1 808.9C746 812.8 747.4 818.6 749 823.9C750.7 829.5 752.3 835.6 753.8 841.8C755.4 848.4 756.8 855.2 758.2 862.3C759.7 869.9 761.3 877.6 762.5 886.2C763.9 896.1 765 907.3 766 918.2C767.1 929.5 767.9 940.8 768.8 953.1C769.7 966.8 770.6 981.6 771.5 996.5C772.5 1012.5 773.6 1030.3 774.5 1046C775.4 1060.3 776.2 1070 777 1086.7C778.3 1113.6 779.7 1156.5 781 1192C782.3 1228.2 783.6 1279.9 784.7 1301.9C785.1 1311.3 785.6 1315.3 786 1322C786.5 1315.2 787.1 1311.2 787.6 1301.7C788.9 1279.5 790.2 1227 791.4 1190.8C792.6 1156.2 794.1 1122.6 794.8 1089.2C795.6 1056.8 795.5 1018.3 795.9 993.6C796.2 977.9 796.3 964.4 796.7 955.2C796.9 950.1 796.9 945.9 797.3 943.2C797.6 941.8 797.7 940.2 798.3 940C799 939.8 800.6 941.4 801.7 942.9C803.7 945.6 805.7 951.1 807.5 956C809.8 961.9 811.9 969.4 814 976.3C816.1 983.3 817.7 989.1 820.4 997.6C824.3 1010.1 830.5 1028.7 835.7 1044C840.7 1059 846.3 1073.7 851 1088.5C855.6 1103 860.1 1116 863.7 1132C868 1151.1 871.1 1174.5 873.9 1195.9C876.7 1217.3 878.7 1238 880.3 1260.7C882.1 1285.8 882.8 1313.6 884 1340C884.7 1324 885.7 1309.8 886.2 1292C887 1269.6 887.2 1242.5 887.6 1216C888 1186.8 888.3 1152.4 888.6 1124C888.8 1099.6 888.8 1079.3 889 1056C889.3 1031.4 889.6 999.9 890.4 980C890.9 967.1 890.6 955 892.3 948C893.3 944.3 894.5 940.1 896 940C897.9 939.9 900.8 947.5 903 952C905.6 957.3 907.7 964 910 970" stroke="#ff6600" stroke-dasharray="21 19"/>
<path d="M126.2 888C130.6 901.3 135 914.7 139.3 928C143.7 941.3 147.9 954.7 152.5 968C157.1 981.3 161.8 994.5 166.7 1007.6C171.6 1020.8 176.4 1033.9 181.7 1046.9C187 1059.9 192.6 1072.8 198.5 1085.5C204.4 1098.3 210.5 1110.8 217 1123.2C223.5 1135.7 230.5 1147.8 237.3 1160C244.2 1172.2 251.4 1184.2 258.1 1196.4C264.9 1208.7 271.4 1221.1 277.6 1233.6C283.9 1246.2 289.9 1258.8 295.7 1271.6C301.4 1284.4 306.6 1297.4 312.2 1310.2C317.9 1323 322.8 1336.2 329.5 1348.4C336.2 1360.5 347 1383.1 352.5 1383C355.7 1383 358 1375.9 360 1371C362.6 1364.5 363.2 1355.5 365 1346.5C367.3 1335.3 370.5 1322.5 372.5 1309C374.8 1293.6 375.7 1277.4 377.5 1259C379.7 1236.5 382.5 1206.5 385 1184C387 1165.6 389.1 1148 391 1134C392.4 1123.9 393.8 1116.3 395 1108C396.1 1100.4 397 1094.5 398 1086C399.3 1074.5 400.4 1058.8 402 1045C403.7 1030.8 405.4 1015.2 408 1002C410.2 990.5 413 980.4 416 970C419 959.8 421.9 949.5 426 940C430 930.8 434.2 921.1 440 914C445.1 907.7 452.1 902.6 458 899C462.7 896.1 467.4 894.1 472 893C476.1 892 479.4 891.5 484 892C490.7 892.7 501.5 895 508 899C513.9 902.6 517.9 908.1 522 914C526.7 920.8 530.6 930.1 534 938C537.2 945.4 539.3 952.7 542 960C544.7 967.3 547.5 974.2 550 982C552.8 990.7 555.6 1000.1 558 1010C560.7 1021 562.7 1032.9 565 1045C567.4 1057.9 569.5 1069.3 572 1085C575.6 1107.3 580.1 1140 584 1166C587.6 1190.2 590.8 1212.7 594.5 1236C598.2 1259.3 601.9 1286 606 1306C609.2 1321.3 612.1 1334.8 616 1346C619 1354.6 622.2 1363.2 626 1368C628.5 1371.1 631.8 1374.6 634 1374C636.8 1373.2 638.4 1364.4 640 1358C642.2 1349.3 642.6 1338.3 644 1326C645.9 1309.1 648.2 1286 650 1266C651.8 1246 653.4 1227.4 655 1206C656.8 1181.3 658.8 1148.1 660 1126C660.9 1110.4 661.3 1101.9 662 1086C663.1 1062.8 664.3 1028.1 665.5 1000C666.6 972.9 667.6 944.7 669 920C670.2 898.6 671.7 860 673 860C673.9 860 675.1 878.6 675.8 892.5C677 917 676.8 961.5 677.4 994.1C677.9 1024.3 678.5 1051.2 679.1 1081.4C679.7 1114 680.4 1151 681.3 1183C682.1 1211.6 683.1 1237.2 684 1264.3C685 1291.3 685.7 1324.7 686.8 1345.5C687.5 1358.5 687.9 1376.9 689 1377C689.8 1377 691 1366.7 691.9 1360C693.1 1350.6 694 1339.7 694.8 1326C696.1 1305 696.7 1272.7 697.7 1246C698.7 1219.3 699.6 1192.7 700.6 1166C701.6 1139.3 702.1 1113.4 703.5 1086C705 1057.1 707.2 1026.4 709.5 996.9C711.7 968 714.3 937.5 717.1 910.9C719.5 887.7 721.9 864.7 724.9 846.2C727.2 832.1 728.8 816.3 732.6 809.4C734.4 806 737.1 802.8 739 803C740.8 803.2 742.3 807 743.7 809.9C745.7 813.8 747.1 819.5 748.8 824.7C750.5 830.4 752.2 836.4 753.8 842.6C755.4 849.2 756.9 855.9 758.3 863C759.9 870.6 761.5 878.3 762.7 886.8C764.2 896.6 765.3 907.7 766.4 918.6C767.5 929.9 768.3 941.1 769.2 953.3C770.2 966.9 771.2 981.8 772 996.5C772.8 1011.9 773.3 1028.7 773.9 1043.6C774.4 1057.1 774.9 1066.4 775.4 1082.3C776.2 1107.8 777.1 1148.6 777.9 1182.4C778.7 1216.8 779.5 1266 780.2 1286.8C780.5 1295.8 780.7 1299.6 781 1306C781.6 1299.5 782.2 1295.7 782.8 1286.6C784.3 1265.4 785.7 1215.2 787.1 1180.7C788.5 1147.6 790.2 1115.4 791.1 1083.6C791.9 1052.6 791.9 1015.8 792.3 992.2C792.6 977.2 792.8 964.3 793.2 955.6C793.4 950.7 793.4 946.7 793.9 944.1C794.2 942.7 794.4 941.2 795 941C795.7 940.8 797.1 942.4 798.1 943.8C799.9 946.4 801.7 951.7 803.4 956.4C805.5 962.1 807.3 969.3 809.3 975.9C811.2 982.7 812.7 988.3 815.1 996.4C818.7 1008.4 824.3 1026.4 829 1041.1C833.6 1055.5 838.7 1069.7 842.9 1083.9C847.1 1097.9 851.2 1110.4 854.5 1125.8C858.5 1144.2 861.3 1166.7 863.8 1187.3C866.3 1208 868.1 1227.8 869.6 1249.7C871.3 1273.8 871.9 1300.6 873 1326C873.9 1310.6 875.1 1297 875.8 1279.9C876.7 1258.4 877 1232.4 877.5 1207C878 1178.9 878.4 1145.9 878.7 1118.6C879 1095.2 878.9 1075.7 879.3 1053.4C879.7 1029.7 880 999.5 881 980.4C881.6 968 881.3 956.4 883.4 949.7C884.6 946.1 886.4 942 888 942C890.1 942.1 892.8 950.3 895 955.2C897.6 961 899.7 968.4 902 975" stroke="#ffe600" stroke-dasharray="27 9 5 9"/>
<path d="M126.2 885C130.7 898.2 135.1 911.4 139.5 924.6C143.9 937.8 148.2 951.1 152.8 964.2C157.5 977.3 162.5 990.3 167.5 1003.3C172.4 1016.3 177.5 1029.3 182.7 1042.2C187.9 1055.1 193.4 1067.9 198.9 1080.6C204.4 1093.4 209.8 1106.2 215.8 1118.7C221.8 1131.3 228.5 1143.5 234.8 1155.9C241.1 1168.2 247.5 1180.6 253.6 1193C259.7 1205.5 265.7 1218 271.5 1230.6C277.3 1243.3 283 1256 288.3 1268.8C293.6 1281.7 298.3 1294.8 303.4 1307.7C308.4 1320.6 312.6 1334 318.7 1346.4C324.8 1358.6 334.5 1381.5 340 1381.5C343.4 1381.5 346.1 1373.2 348.5 1368C351.3 1361.8 352.9 1354.7 355 1346.5C357.7 1335.8 360.5 1322.5 362.5 1309C364.8 1293.6 365.9 1276.6 367.5 1259C369.3 1239.3 370.6 1217.3 372.5 1196.5C374.4 1175.7 377.2 1149.9 378.8 1134C379.7 1124.1 380 1119.7 381 1110C382.6 1094.9 385.2 1072.1 387.5 1052.5C389.9 1032.1 391.9 1009.6 395 990C397.8 972.3 400.5 955.3 405 940C409 926.4 413.4 912.6 420 902.5C425.5 894 433.5 886.5 440 882C444.7 878.7 448.6 877.9 454 876C460.9 873.5 470.1 869.9 478 869C485.4 868.1 493.7 868.2 500 870C505.4 871.6 509.8 874.3 514 878C518.6 882.1 522.4 888.2 526 894C529.8 900.1 533 907.1 536 914C539 921.1 541.5 928 544 936C546.9 945.2 549.6 956.5 552 966C554.2 974.4 556.2 980.5 558 990C560.6 1003.6 562.7 1023.8 565 1040C567.2 1055.4 569.1 1067.8 571.5 1085C574.7 1108.1 578.6 1140 582 1166C585.1 1190.2 587.8 1214.2 591 1236C593.8 1255.2 596.7 1272.8 600 1290C603.1 1306 606.6 1322.9 610 1336C612.6 1346 614.8 1355.5 618 1362C620.1 1366.3 622.9 1372.2 625 1372C627.2 1371.8 629.3 1364.8 631 1360C633.3 1353.5 634.3 1345.5 636 1336C638.5 1322.4 641.7 1303.5 644 1286C646.5 1266.9 648.4 1246.8 650 1226C651.8 1203.6 652.8 1179.3 654 1156C655.2 1132.7 655.9 1110.5 657 1086C658.2 1058.8 659.5 1029 661 1000C662.5 970.3 663.8 935.6 666 910C667.7 890.9 670.5 860 672 860C673.2 860 674.1 878.6 674.8 892.5C676.1 917 676 961.5 676.6 994.1C677.1 1024.3 677.6 1051.2 678.3 1081.4C678.9 1114 679.6 1151 680.5 1183C681.4 1211.6 682.4 1237.2 683.4 1264.3C684.3 1291.3 685.1 1324.7 686.2 1345.5C686.9 1358.5 687.6 1377 688.5 1377C689.2 1377 690.1 1366.7 690.8 1360C691.8 1350.6 692.4 1339.7 693.1 1326C694.1 1305 694.6 1272.7 695.4 1246C696.2 1219.3 696.9 1192.7 697.7 1166C698.5 1139.3 698.6 1113.3 700 1086C701.5 1057.2 704 1026.8 706.5 997.6C708.9 968.8 711.7 938.5 714.7 912.1C717.4 889.1 720 866.2 723.3 847.9C725.8 833.9 727.5 818.2 731.5 811.3C733.5 807.9 736.5 804.8 738.5 805C740.4 805.2 741.9 809 743.4 811.8C745.5 815.6 747 821.4 748.7 826.5C750.5 832.1 752.3 838.1 754 844.2C755.7 850.7 757.2 857.4 758.7 864.3C760.3 871.9 762 879.5 763.3 887.9C764.9 897.6 766 908.6 767.1 919.4C768.3 930.6 769.1 941.7 770.1 953.8C771.1 967.2 772.3 982.8 773 996.5C773.6 1009.1 773.7 1021.4 774 1032.9C774.3 1043.4 774.6 1050.6 774.9 1062.9C775.3 1082.7 775.8 1114.2 776.3 1140.3C776.7 1167 777.2 1205 777.5 1221.2C777.7 1228.1 777.8 1231.1 778 1236C778.6 1230.9 779.1 1227.8 779.7 1220.6C781 1203.8 782.3 1163.9 783.6 1136.4C784.8 1110.1 786.4 1084.6 787.1 1059.3C787.9 1034.7 787.9 1005.4 788.2 986.7C788.5 974.8 788.7 964.5 789 957.6C789.2 953.7 789.2 950.5 789.7 948.5C790 947.3 790.2 946.1 790.7 946C791.3 945.9 792.6 947.3 793.5 948.6C795.2 951.1 796.8 956.1 798.4 960.5C800.3 966 802 972.8 803.7 979C805.5 985.4 806.9 990.7 809.1 998.4C812.4 1009.8 817.5 1026.7 821.8 1040.6C826 1054.3 830.6 1067.7 834.5 1081.1C838.4 1094.4 842.1 1106.2 845.1 1120.7C848.7 1138.2 851.3 1159.4 853.6 1178.8C855.9 1198.4 857.6 1217.1 858.9 1237.8C860.5 1260.6 861 1285.9 862 1310C863.1 1295.2 864.6 1282.1 865.4 1265.6C866.6 1244.9 866.9 1219.9 867.5 1195.3C868.2 1168.3 868.6 1136.4 869 1110.2C869.4 1087.7 869.3 1068.8 869.8 1047.3C870.2 1024.5 870.6 995.4 871.8 977C872.6 965 872.3 953.8 874.9 947.4C876.3 943.8 878.5 939.9 880.5 940C883.2 940.1 886.5 948.7 889.2 954C892.4 960.2 895.1 968 898 975" stroke="#00e614" stroke-dasharray="19 9 6 9 6 9"/>
<path d="M126.2 881C135.8 909 145 937.9 155 965C164.6 990.8 175.7 1017 185 1040C193 1059.8 202.8 1082.7 207.5 1095C209.9 1101.2 210 1102.9 212.5 1109C217.5 1121.1 229.8 1144.8 237.5 1162C244.7 1178.1 251 1194 257.5 1209C263.5 1222.9 269.9 1236 275 1249C279.7 1261 283.4 1272.1 287.5 1284C291.7 1296.3 295.8 1309.3 300 1321.5C304 1333.3 308 1346.6 312 1356C314.9 1362.8 317.4 1369.1 320.5 1373C322.6 1375.6 324.8 1378.8 327 1378.5C330.1 1378 333.8 1370 336.5 1364C340.1 1356 342.8 1344.6 345 1334C347.4 1322.3 348.4 1309.9 350 1296.5C351.8 1281 353.4 1264.1 355 1246.5C356.8 1226.8 358.2 1203.7 360 1184C361.6 1166.4 363.6 1147.6 365 1134C366 1124.5 366.5 1119.2 367.5 1110C368.9 1097.3 370.9 1080.4 372.5 1065C374.2 1048.8 375.7 1030.5 377.5 1015C379.1 1001.6 380.7 989.3 382.5 977.5C384.1 966.9 385.2 958 387.5 947.5C390.1 935.6 393.3 921.1 397.5 910C401.1 900.6 405 891.9 410 885C414.4 878.9 420 873.2 425 870C428.7 867.7 432 867.7 436 866C440.9 863.9 446.6 860.4 452 858C457.3 855.7 462.2 853.7 468 852C474.7 850 483 847.2 490 847C496.3 846.8 502.7 848.3 508 850C512.5 851.5 516.8 852.7 520 856C523.9 860 525.4 867.8 528 874C530.7 880.5 533.7 886.9 536 894C538.4 901.6 540 910.2 542 918C544 925.5 546.1 932.1 548 940C550.2 949.2 552 960 554 970C556 980 558.1 988.7 560 1000C562.5 1014.5 565 1034.8 567 1050C568.7 1062.7 569.9 1070.9 571.5 1085C574 1106.4 577.1 1140 580 1166C582.7 1190.2 585.2 1213.6 588 1236C590.6 1256.8 593.2 1276.9 596 1296C598.6 1313.4 600.6 1332.8 604 1346C606.3 1355 608.9 1367.4 612 1368C614.1 1368.4 617.1 1363.3 619 1360C621.3 1356.2 622.5 1352 624 1346C626.5 1336.2 628.2 1320.7 630 1306C632.2 1288 634.2 1264 636 1246C637.5 1231.3 638.8 1220.7 640 1206C641.5 1188 642.7 1166 644 1146C645.3 1126 646.2 1103.4 648 1086C649.4 1072.4 651.7 1063.2 653 1050C654.6 1033.8 655.3 1013 656.5 996C657.6 980.8 658.6 967.3 659.7 953C660.8 938.7 661.9 923.4 663 910C664 898.3 664.2 886.4 666 877C667.4 869.7 670.2 857.9 671.6 858C673.4 858.2 673.7 876.7 674.4 890.6C675.7 915.2 675.5 959.9 676.1 992.6C676.7 1022.9 677.2 1050 677.8 1080.3C678.5 1113 679.2 1150.2 680.1 1182.2C680.9 1211 682 1236.6 682.9 1263.8C683.9 1291 684.6 1324.5 685.7 1345.4C686.4 1358.4 687.2 1377 688 1377C688.6 1377 689.3 1366.6 689.8 1360C690.5 1350.6 691.1 1339.7 691.6 1326C692.4 1305 692.8 1272.7 693.4 1246C694 1219.3 694.6 1192.7 695.2 1166C695.8 1139.3 695.6 1113.1 697 1086C698.4 1057.8 701.1 1028.3 703.7 999.8C706.2 971.7 709.2 942.2 712.3 916.4C715 894 717.7 871.7 721.2 853.8C723.8 840.2 725.6 824.8 729.8 818.2C731.8 814.8 734.9 811.8 737 812C739 812.2 740.6 815.8 742.2 818.5C744.4 822.2 746 827.8 747.8 832.7C749.7 838.1 751.6 843.9 753.3 849.8C755.1 856 756.7 862.4 758.3 869.2C760 876.4 761.8 883.7 763.2 891.9C764.8 901.2 766 911.9 767.2 922.2C768.4 933 769.3 943.7 770.3 955.3C771.4 968.3 772.9 985.6 773.4 996.5C773.8 1003.6 773.7 1008.5 773.8 1014.1C774 1019.1 774.1 1022.6 774.2 1028.5C774.4 1038 774.6 1053.3 774.8 1065.9C775 1078.7 775.1 1097.1 775.3 1104.9C775.4 1108.2 775.4 1109.6 775.5 1112C775.9 1109 776.4 1107.3 776.8 1103.1C777.8 1093.4 778.8 1070.3 779.8 1054.5C780.7 1039.3 781.9 1024.6 782.5 1009.9C783.1 995.7 783.1 978.8 783.4 968C783.6 961.1 783.7 955.2 784 951.2C784.2 948.9 784.2 947.1 784.5 945.9C784.7 945.3 784.9 944.6 785.3 944.5C785.9 944.4 787 945.7 787.8 947C789.3 949.2 790.7 953.9 792.1 958C793.7 963.1 795.2 969.5 796.8 975.3C798.3 981.2 799.5 986.2 801.5 993.4C804.3 1004 808.9 1019.8 812.6 1032.8C816.3 1045.5 820.4 1058 823.8 1070.5C827.2 1082.9 830.5 1093.9 833.2 1107.5C836.3 1123.7 838.6 1143.5 840.6 1161.7C842.6 1179.9 844.1 1197.4 845.3 1216.7C846.6 1238 847.1 1261.6 848 1284C849.3 1270.3 850.9 1258.1 851.9 1242.8C853.2 1223.6 853.6 1200.4 854.3 1177.7C855 1152.6 855.5 1123.1 856 1098.8C856.4 1077.9 856.3 1060.4 856.8 1040.5C857.4 1019.3 857.8 992.4 859.2 975.3C860.1 964.2 859.9 953.7 862.6 947.9C864.2 944.5 866.5 940.9 869 941C872.8 941.2 878.6 951.9 883 958.6C888 966.3 892.3 976.2 897 985" stroke="#0088ff" stroke-dasharray="10 8"/>
</g>
<path d="M195.1 1388.8v-6.5M195.1 768.4v6.5M263.9 1388.8v-12.3M263.9 768.4v12.3M332.7 1388.8v-6.5M332.7 768.4v6.5M401.5 1388.8v-12.3M401.5 768.4v12.3M470.4 1388.8v-6.5M470.4 768.4v6.5M539.2 1388.8v-12.3M539.2 768.4v12.3M608 1388.8v-6.5M608 768.4v6.5M676.8 1388.8v-12.3M676.8 768.4v12.3M745.6 1388.8v-6.5M745.6 768.4v6.5M814.4 1388.8v-12.3M814.4 768.4v12.3M883.2 1388.8v-6.5M883.2 768.4v6.5M126.3 1326.8h6.5M895.6 1326.8h-6.5M126.3 1264.7h12.3M895.6 1264.7h-12.3M126.3 1202.7h6.5M895.6 1202.7h-6.5M126.3 1140.6h12.3M895.6 1140.6h-12.3M126.3 1078.6h6.5M895.6 1078.6h-6.5M126.3 1016.6h12.3M895.6 1016.6h-12.3M126.3 954.5h6.5M895.6 954.5h-6.5M126.3 892.5h12.3M895.6 892.5h-12.3M126.3 830.4h6.5M895.6 830.4h-6.5" stroke="#000" stroke-width="4.3" fill="none"/>
<rect x="126.3" y="768.4" width="769.3" height="620.4" fill="none" stroke="#000" stroke-width="4.9"/>
<g font-family="'Liberation Serif',serif" font-weight="bold" fill="#000">
<g font-size="35" text-anchor="end">
<text x="111.8" y="1400.6">0.0</text>
<text x="111.8" y="1276.5">0.2</text>
<text x="111.8" y="1152.4">0.4</text>
<text x="111.8" y="1028.4">0.6</text>
<text x="111.8" y="904.3">0.8</text>
<text x="111.8" y="780.2">1.0</text>
</g>
<g font-size="35" text-anchor="middle">
<text x="126.3" y="1430.3">0.2</text>
<text x="263.9" y="1430.3">0.7</text>
<text x="401.5" y="1430.3">1.2</text>
<text x="539.2" y="1430.3">1.7</text>
<text x="676.8" y="1430.3">2.2</text>
<text x="814.4" y="1430.3">2.7</text>
</g>
<text x="511.4" y="1466.7" font-size="38" text-anchor="middle">Frequency (THz)</text>
<text transform="translate(54.3 1064.6) rotate(-90)" font-size="38" text-anchor="middle" letter-spacing="0.2">Transmission (a.u.)</text>
<text x="130.5" y="1364" font-size="41">(c)</text>
</g>
</g>
<g id="panel-d">
<g id="legend-d">
<path d="M1017.8 800.1H1100.6" stroke="#ff0000" stroke-width="4.2" fill="none"/>
<text x="1109.2" y="811.7" font-family="'Liberation Serif',serif" font-weight="bold" font-size="34.6" fill="#000">TM_R<tspan font-size="23" dy="8.5">2</tspan><tspan dy="-8.5">=25μm</tspan></text>
<path d="M1017.8 855.1H1100.6" stroke="#ff6600" stroke-width="4.2" fill="none" stroke-dasharray="23 19.5"/>
<text x="1109.2" y="866.7" font-family="'Liberation Serif',serif" font-weight="bold" font-size="34.6" fill="#000">TM_R<tspan font-size="23" dy="8.5">2</tspan><tspan dy="-8.5">=26μm</tspan></text>
<path d="M1017.8 909.5H1100.6" stroke="#ffe600" stroke-width="4.2" fill="none" stroke-dasharray="27 10 7 10"/>
<text x="1109.2" y="921.1" font-family="'Liberation Serif',serif" font-weight="bold" font-size="34.6" fill="#000">TM_R<tspan font-size="23" dy="8.5">2</tspan><tspan dy="-8.5">=27μm</tspan></text>
<path d="M1330.3 800.1H1413.7" stroke="#00e614" stroke-width="4.2" fill="none" stroke-dasharray="21 9 7 9 7 9"/>
<text x="1422.8" y="811.7" font-family="'Liberation Serif',serif" font-weight="bold" font-size="34.6" fill="#000">TM_R<tspan font-size="23" dy="8.5">2</tspan><tspan dy="-8.5">=28μm</tspan></text>
<path d="M1330.3 855.1H1413.7" stroke="#0088ff" stroke-width="4.2" fill="none" stroke-dasharray="11 8"/>
<text x="1422.8" y="866.7" font-family="'Liberation Serif',serif" font-weight="bold" font-size="34.6" fill="#000">TM_R<tspan font-size="23" dy="8.5">2</tspan><tspan dy="-8.5">=29μm</tspan></text>
</g>
<g clip-path="url(#cpd)" fill="none" stroke-width="4.1" stroke-linejoin="round">
<path d="M1011.2 902.5C1014.2 915.8 1016.5 929 1020 942.5C1023.6 956.5 1027.9 971.1 1032.5 985C1037 998.6 1042.3 1012.2 1047.5 1025C1052.4 1037.1 1057 1048.7 1062.5 1060C1067.9 1071.2 1073.9 1082.5 1080 1092.5C1085.6 1101.6 1091.3 1110.1 1097.5 1117.5C1103.1 1124.1 1109.2 1130.2 1115 1135C1120 1139.1 1124.6 1142.8 1130 1145C1135.4 1147.1 1141.7 1148.3 1147.5 1148C1153.4 1147.7 1159.3 1145.4 1165 1143C1171 1140.5 1176.6 1136.3 1182.5 1133C1188.3 1129.8 1194.3 1126.4 1200 1123.5C1205.4 1120.8 1210.5 1117.6 1216 1116C1221.5 1114.4 1227.8 1113.5 1233 1114C1237.7 1114.4 1242.3 1115.5 1246 1118C1250 1120.7 1253.4 1125.2 1256 1130C1259 1135.6 1260.3 1142.6 1262 1150C1264.1 1158.9 1265.4 1169.3 1267 1180C1268.8 1192.4 1270.3 1206.7 1272 1220C1273.7 1233.3 1275.3 1246.7 1277 1260C1278.7 1273.3 1280.2 1286.7 1282 1300C1283.8 1313.3 1285.7 1328.1 1288 1340C1289.8 1349.6 1291.6 1358.8 1294 1366C1295.8 1371.5 1297.1 1376.8 1300 1380C1302.4 1382.6 1306.1 1385.2 1309 1385C1312.1 1384.8 1315 1381.2 1318 1378C1322.1 1373.6 1325.8 1366.1 1330 1360C1334.5 1353.5 1339.1 1346.6 1344 1340C1349.1 1333.3 1354.5 1326.2 1360 1320C1365.2 1314.2 1370.6 1308.3 1376 1304C1380.6 1300.3 1385.3 1296.8 1390 1295C1394 1293.5 1398 1292.7 1402 1293C1406 1293.3 1410.4 1294.7 1414 1297C1417.9 1299.5 1420.9 1303.7 1424 1308C1427.7 1313.1 1430.8 1319.6 1434 1326C1437.5 1332.9 1440.9 1341 1444 1348C1446.8 1354.3 1448.8 1361.1 1452 1366C1454.6 1370.1 1457.9 1375.8 1461 1376C1463.9 1376.2 1467.4 1371.7 1470 1368C1473.4 1363.1 1475.6 1355.7 1478 1348C1481.1 1338.1 1483.6 1325.9 1486 1313C1489 1297.2 1491.3 1277.8 1494 1260C1496.7 1242.1 1499.3 1224 1502 1206C1504.7 1188 1507.3 1170.1 1510 1152C1512.7 1133.8 1515.4 1115.5 1518 1097C1520.7 1078.2 1523.3 1059 1526 1040C1528.7 1021 1531.3 1002 1534 983C1536.7 964 1539.3 944.7 1542 926C1544.6 907.8 1547 888.1 1550 872C1552.5 858.7 1555 843.9 1558 836C1559.6 831.8 1561.3 827.3 1563 827C1564.1 826.8 1565.5 828.5 1566.5 830C1568.1 832.5 1568.9 837 1570 842C1571.8 850.2 1573.1 862.4 1574.5 875C1576.4 891.6 1578.1 911.7 1579.6 933C1581.4 959.1 1582.6 991.1 1584 1020C1585.4 1048.7 1586.9 1077.5 1588.2 1106C1589.4 1134.2 1590.5 1161.6 1591.5 1190C1592.6 1219.4 1593.6 1252 1594.5 1279.5C1595.3 1303 1595.9 1327 1596.5 1345C1596.9 1357.6 1597.4 1366.3 1597.8 1377C1598.4 1366.3 1598.8 1357.6 1599.5 1345C1600.5 1327 1602.2 1305 1603.5 1279.5C1605.4 1243.5 1607.2 1186.2 1609 1149.6C1610.3 1122.8 1611.6 1102.4 1613 1080C1614.3 1059.2 1615.4 1042.7 1617 1019.7C1619.2 988.9 1622 937.5 1625 911.5C1626.7 896.8 1628.8 885.4 1630.5 877C1631.5 872.1 1632 868.1 1633.3 865.5C1634.1 863.9 1635.1 862 1636 862C1636.9 862 1637.9 863.8 1638.6 865.5C1639.9 868.6 1640.3 873.2 1641 880C1642.6 895.9 1642.9 932.9 1644 960C1645.1 987.9 1646.6 1021.1 1647.5 1045C1648.1 1062.4 1648.6 1072.6 1649 1090C1649.6 1113.9 1649.8 1143.3 1650.5 1175C1651.3 1215.5 1652.7 1277 1653.8 1313C1654.5 1336.1 1655.3 1351 1656 1370C1657 1346.7 1658.2 1326.7 1659 1300C1660.1 1264.3 1660.7 1214.9 1661.5 1175C1662.2 1138.5 1662.7 1103.7 1663.5 1070C1664.2 1038.8 1664.9 1009.1 1666 980C1667.1 952.5 1668.5 923.8 1670 900C1671.2 880.8 1671.4 861.7 1674 848C1675.8 838.7 1678 825.4 1681 825C1683.5 824.7 1687.2 834 1690 840C1693.7 848.1 1696.8 859.7 1700 870C1703.4 880.9 1706.6 892.9 1710 904C1713.3 914.8 1716.6 925.7 1720 936C1723.2 945.7 1726.5 955.1 1730 964C1733.2 972.4 1736.9 980.1 1740 988C1742.9 995.5 1745.4 1002.3 1748 1010C1750.8 1018.3 1753.6 1027.5 1756 1036C1758.3 1044.1 1760.2 1052.2 1762 1060C1763.7 1067.5 1765.2 1072.9 1766.5 1082C1768.6 1096.7 1769.5 1120.9 1771 1140C1772.5 1158.6 1774.3 1183.3 1775.5 1195C1776.1 1200.5 1776.5 1203 1777 1207C1778 1196.3 1779.1 1187.1 1780 1175C1781.2 1159.1 1781.9 1136.9 1783 1120C1783.9 1105.6 1785 1093.3 1786 1080" stroke="#ff0000"/>
<path d="M1011.2 901.5C1014.5 915 1017.3 928.4 1021 942C1024.8 956.2 1029 971.2 1034 985C1038.8 998.2 1043.9 1009.4 1050 1023C1057.2 1039.1 1066.6 1060.3 1075 1075C1081.6 1086.6 1087.9 1096.3 1095 1105C1101.3 1112.7 1108.6 1119.7 1115 1125C1120.1 1129.2 1124.4 1132.7 1130 1135C1136 1137.5 1143.3 1139 1150 1139C1156.7 1139 1163.4 1136.9 1170 1135C1176.7 1133.1 1183.5 1129.7 1190 1127.5C1196 1125.4 1201.6 1122.6 1207.5 1122C1213.3 1121.4 1219.6 1122.2 1225 1124C1230.4 1125.8 1235.9 1128.6 1240 1132.5C1244.2 1136.4 1247.4 1141.8 1250 1147.5C1253 1154 1254.3 1162.5 1256 1170C1257.6 1177.3 1258.7 1184.2 1260 1192C1261.4 1200.8 1262.6 1209.6 1264 1220C1265.8 1233 1268 1249.7 1270 1264C1272 1277.7 1274 1290.5 1276 1304C1278 1317.8 1279.3 1333.5 1282 1346C1284.2 1356.4 1286.5 1367.3 1290 1374C1292.3 1378.5 1295.1 1383.8 1298 1384C1301.1 1384.2 1304.5 1378.2 1308 1374C1312.9 1368.2 1318 1360.2 1324 1352C1331.6 1341.5 1341.8 1325.9 1350 1316C1356.3 1308.4 1362.4 1302 1368 1297C1372.2 1293.2 1376 1290 1380 1288C1383.3 1286.3 1386.6 1284.7 1390 1285C1393.9 1285.3 1398.2 1287.8 1402 1291C1407 1295.2 1411.7 1302.7 1416 1310C1421.1 1318.6 1425.7 1330.8 1430 1340C1433.6 1347.9 1435.8 1356.2 1440 1362C1443.4 1366.7 1448.6 1373.5 1452 1373C1455.3 1372.5 1457.8 1365.3 1460 1360C1462.9 1353 1464 1343.8 1466 1334C1468.6 1321.3 1471.4 1305.1 1474 1290C1476.8 1273.9 1479.3 1256.5 1482 1240C1484.6 1223.8 1487.3 1207.6 1490 1192C1492.6 1177 1495.6 1162.1 1498 1148C1500.2 1134.9 1502.3 1122.1 1504 1110C1505.6 1098.9 1506.1 1090.6 1508 1078C1510.8 1059.5 1516.2 1031.8 1520 1010C1523.5 989.9 1526.6 971 1530 952C1533.3 933.7 1536.3 915.8 1540 898C1543.6 880.5 1548 859.8 1552 846C1554.7 836.7 1557.2 828.3 1560 823C1561.6 819.8 1563.4 816.2 1565 816C1566.2 815.9 1567.5 817.6 1568.5 819.3C1570.1 822.1 1570.9 827 1572 832.6C1573.7 841.6 1575 855.1 1576.4 869C1578.3 887.3 1580 910 1581.5 933C1583.2 959.8 1584.5 991.1 1586 1020C1587.4 1048.7 1589 1077.5 1590.2 1106C1591.5 1134.2 1592.5 1161.6 1593.6 1190C1594.7 1219.4 1595.8 1252 1596.6 1279.5C1597.4 1303 1598 1327 1598.7 1345C1599.1 1357.6 1599.6 1366.3 1600 1377C1600.5 1366.2 1601 1357.4 1601.6 1344.7C1602.6 1326.5 1604.2 1304.3 1605.5 1278.6C1607.3 1242.3 1609.1 1184.3 1610.8 1147.4C1612.1 1120.3 1613.4 1099.7 1614.7 1077.1C1616 1056.1 1617 1039.5 1618.6 1016.2C1620.7 985.1 1623.4 933.2 1626.3 907C1628 892.1 1630 880.6 1631.7 872.1C1632.6 867.2 1633.2 863.2 1634.4 860.5C1635.1 858.9 1636.1 857 1637 857C1637.8 857 1638.8 858.8 1639.5 860.5C1640.7 863.6 1641.1 868.1 1641.8 874.9C1643.3 890.7 1643.6 927.5 1644.6 954.4C1645.6 982.2 1647.1 1015.2 1647.9 1038.9C1648.5 1056.2 1648.9 1066.4 1649.3 1083.7C1649.9 1107.4 1650.1 1136.6 1650.8 1168.2C1651.6 1208.4 1652.8 1269.6 1653.9 1305.3C1654.6 1328.3 1655.3 1343.1 1656 1362C1656.8 1339.2 1657.8 1319.7 1658.5 1293.7C1659.5 1258.9 1660 1210.6 1660.6 1171.7C1661.2 1136 1661.6 1102 1662.3 1069.2C1662.9 1038.7 1663.4 1009.7 1664.4 981.3C1665.3 954.5 1666.5 926.4 1667.8 903.2C1668.8 884.5 1668.9 865.9 1671.1 852.5C1672.6 843.4 1674.1 830.5 1677 830C1679.4 829.6 1683.4 837.7 1686.2 843C1690 850 1693.2 860 1696.5 869C1700 878.5 1703.3 888.8 1706.8 898.5C1710.2 907.9 1713.5 917.3 1717.1 926.2C1720.4 934.6 1723.8 942.7 1727.3 950.4C1730.6 957.7 1734.4 964.4 1737.6 971.2C1740.6 977.7 1743.2 983.6 1745.8 990.3C1748.7 997.5 1751.6 1005.4 1754 1012.8C1756.4 1019.9 1758.4 1026.8 1760.2 1033.6C1761.9 1040.1 1763.5 1044.8 1764.8 1052.7C1766.9 1065.4 1767.9 1086.4 1769.4 1102.9C1771 1119 1772.8 1140.5 1774.1 1150.6C1774.6 1155.3 1775.1 1157.5 1775.6 1161C1776.6 1153.4 1777.8 1146.8 1778.7 1138.1C1780 1126.7 1780.7 1110.7 1781.9 1098.7C1782.8 1088.3 1784 1079.6 1785 1070" stroke="#ff6600" stroke-dasharray="21 19"/>
<path d="M1011.2 900C1015.2 913.3 1018.7 926.7 1023 940C1027.4 953.4 1032.2 966 1037.5 980C1043.5 995.8 1050.8 1014.6 1057.5 1030C1063.3 1043.5 1068 1055.5 1075 1067.5C1082.1 1079.7 1090.9 1093.2 1100 1102.5C1107.8 1110.4 1116.2 1116.8 1125 1121C1133 1124.8 1141.6 1126.7 1150 1127.5C1158.3 1128.3 1166.1 1126.9 1175 1126C1185.1 1124.9 1198.5 1119.8 1207.5 1121C1214.4 1121.9 1220.4 1125.2 1225 1128.8C1229 1131.8 1231.5 1135.9 1234 1140C1236.5 1144.3 1238 1148.6 1240 1154C1242.7 1161.3 1245.7 1171 1248 1180C1250.4 1189.6 1252.1 1199.3 1254 1210C1256.2 1222.4 1258.1 1235.9 1260 1250C1262.1 1265.7 1263.9 1284.3 1266 1300C1267.9 1314.1 1269.4 1327.7 1272 1340C1274.2 1350.8 1276.7 1362 1280 1370C1282.4 1375.7 1285.2 1383.8 1288 1384C1290.5 1384.2 1293.5 1377.7 1296 1374C1298.8 1369.8 1301.1 1364.8 1304 1360C1307.1 1354.8 1310.4 1349.9 1314 1344C1318.3 1336.8 1323.4 1327.4 1328 1320C1332.1 1313.5 1335.6 1307.7 1340 1302C1344.3 1296.4 1349.3 1290.6 1354 1286C1358 1282.1 1361.9 1277.9 1366 1276C1369.3 1274.4 1372.4 1273.6 1376 1274C1380.3 1274.5 1386.1 1276.7 1390 1280C1394.3 1283.7 1397 1290.6 1400 1296C1403 1301.3 1405.4 1305.8 1408 1312C1411.4 1319.9 1414.8 1331.5 1418 1340C1420.7 1347.3 1422.8 1354.9 1426 1360C1428.4 1363.8 1431.1 1367.9 1434 1369C1436.2 1369.8 1439 1369.5 1441 1368C1444.1 1365.6 1445.9 1357.8 1448 1352C1450.4 1345.3 1452.2 1338.4 1454 1330C1456.3 1319.1 1457.8 1305.5 1460 1292C1462.5 1276.5 1465.2 1258.1 1468 1242C1470.6 1226.9 1473.4 1213 1476 1198C1478.7 1182.4 1481.4 1166.2 1484 1150C1486.7 1133.5 1489.8 1113.6 1492 1100C1493.5 1090.5 1494.2 1085.7 1496 1076C1498.7 1061.2 1503.3 1038.3 1507 1020C1510.6 1002.3 1514.2 985.7 1518 968C1521.9 949.7 1526.2 929.7 1530 912C1533.5 895.9 1536.3 881.1 1540 866C1543.6 851.1 1547.3 832.8 1552 822C1555 815.1 1559 806.5 1562 806C1563.7 805.7 1565.3 807.7 1566.6 809.6C1568.8 812.6 1569.9 817.9 1571.3 824C1573.6 833.8 1575.4 848.5 1577.2 863.5C1579.7 883.4 1582.2 908.5 1584 933C1586 960.3 1586.9 990.8 1588.4 1019.6C1589.8 1048.2 1591.3 1076.8 1592.5 1105.2C1593.7 1133.3 1594.7 1160.5 1595.8 1188.8C1596.8 1218.1 1597.9 1250.6 1598.7 1277.9C1599.5 1301.4 1600.1 1325.3 1600.7 1343.1C1601.2 1355.6 1601.6 1364.4 1602 1375C1602.5 1364.2 1602.9 1355.3 1603.6 1342.5C1604.6 1324.3 1606.1 1301.9 1607.4 1276C1609.1 1239.5 1610.8 1181.2 1612.6 1144.1C1613.8 1116.9 1615 1096.1 1616.3 1073.4C1617.5 1052.2 1618.6 1035.5 1620.1 1012.1C1622.1 980.8 1624.8 928.7 1627.6 902.3C1629.3 887.3 1631.2 875.8 1632.8 867.2C1633.7 862.3 1634.2 858.2 1635.5 855.6C1636.2 853.9 1637.2 852 1638 852C1638.8 852 1639.7 853.8 1640.3 855.5C1641.4 858.5 1641.8 863.1 1642.4 869.8C1643.8 885.6 1644.1 922.2 1645 949C1646 976.7 1647.3 1009.6 1648.1 1033.2C1648.6 1050.4 1649 1060.6 1649.4 1077.8C1649.9 1101.4 1650.1 1130.5 1650.7 1161.9C1651.4 1202 1652.6 1262.9 1653.6 1298.6C1654.2 1321.5 1654.9 1336.2 1655.5 1355C1656.2 1332.6 1657.1 1313.4 1657.7 1287.8C1658.5 1253.6 1659 1206.1 1659.6 1167.9C1660.1 1132.8 1660.5 1099.4 1661 1067.1C1661.6 1037.2 1662.1 1008.7 1662.9 980.7C1663.7 954.4 1664.7 926.8 1665.9 904C1666.8 885.5 1666.9 867.3 1668.8 854.1C1670.1 845.2 1671.2 832.6 1674 832C1676.3 831.5 1680.3 839.3 1683.1 844.3C1686.8 850.9 1689.9 860.4 1693.2 868.9C1696.7 877.8 1699.9 887.6 1703.3 896.7C1706.6 905.6 1709.9 914.5 1713.4 923C1716.7 930.9 1720 938.6 1723.5 945.9C1726.8 952.8 1730.5 959.1 1733.6 965.6C1736.5 971.7 1739.1 977.3 1741.7 983.6C1744.5 990.3 1747.4 997.9 1749.8 1004.9C1752.1 1011.5 1754 1018.1 1755.8 1024.6C1757.6 1030.7 1759.1 1035.1 1760.4 1042.6C1762.5 1054.6 1763.4 1074.5 1764.9 1090.1C1766.4 1105.3 1768.3 1125.6 1769.5 1135.2C1770.1 1139.6 1770.5 1141.7 1771 1145C1772.3 1139.1 1773.8 1134.1 1775 1127.4C1776.6 1118.6 1777.5 1106.3 1779 1097C1780.2 1089.1 1781.7 1082.3 1783 1075" stroke="#ffe600" stroke-dasharray="27 9 5 9"/>
<path d="M1011.9 898.1C1016.4 910.6 1020.8 923.1 1025.6 935.6C1030.4 948.1 1035.6 960.6 1040.6 973.1C1045.6 985.6 1050.1 998.4 1055.6 1010.6C1061 1022.6 1067 1034.8 1073.1 1045.6C1078.7 1055.5 1084.1 1065 1090.6 1073.1C1096.7 1080.7 1103.6 1087.5 1110.6 1093.1C1117 1098.2 1123.8 1102.2 1130.6 1105.6C1137.1 1108.8 1143.5 1111.2 1150.6 1113.1C1158.4 1115.2 1167.7 1116 1175.6 1117.1C1182.6 1118.1 1189.7 1118.6 1195.6 1119.6C1200.3 1120.4 1204.1 1120.2 1208.1 1122.1C1212.8 1124.4 1217.9 1129.1 1221.6 1133.6C1225.4 1138.2 1228 1143.5 1230.6 1149.6C1233.8 1156.9 1236.3 1166.1 1238.6 1174.6C1240.9 1183.1 1242.7 1191.2 1244.6 1200.6C1246.8 1211.6 1248.7 1224.8 1250.6 1236.6C1252.4 1248.1 1254 1258.8 1255.6 1270.6C1257.3 1283.4 1258.8 1297.3 1260.6 1310.6C1262.4 1323.9 1264.3 1339 1266.6 1350.6C1268.4 1359.7 1269.5 1368.8 1272.6 1374.6C1274.7 1378.7 1278.1 1383.8 1280.6 1383.6C1283.2 1383.4 1285.5 1377 1287.6 1372.6C1290.3 1367 1291.9 1359.4 1294.6 1352.6C1297.5 1345.4 1301.3 1338.1 1304.6 1330.6C1308 1322.8 1310.8 1314.1 1314.6 1306.6C1318.2 1299.5 1322.1 1292.7 1326.6 1286.6C1330.9 1280.8 1335.7 1275.2 1340.6 1270.6C1345.1 1266.4 1349.7 1262.1 1354.6 1259.6C1359.1 1257.3 1364 1255.4 1368.6 1255.6C1373.3 1255.8 1378.6 1257.8 1382.6 1260.6C1386.7 1263.4 1389.7 1268 1392.6 1272.6C1395.8 1277.8 1398.1 1284 1400.6 1290.6C1403.5 1298.4 1406 1307.8 1408.6 1316.6C1411.3 1325.7 1414 1336.3 1416.6 1344.6C1418.7 1351.3 1419.7 1358.2 1422.6 1362.6C1424.8 1365.9 1428.1 1369.8 1430.6 1369.6C1433.2 1369.4 1435.8 1364.6 1437.6 1360.6C1440.3 1354.7 1440.9 1345.4 1442.6 1336.6C1444.6 1325.8 1446.6 1312.9 1448.6 1300.6C1450.7 1287.6 1452.6 1273.9 1454.6 1260.6C1456.6 1247.3 1458.6 1233.9 1460.6 1220.6C1462.6 1207.3 1464.6 1193.9 1466.6 1180.6C1468.6 1167.3 1470.4 1153.9 1472.6 1140.6C1474.8 1127.3 1477.4 1112.5 1479.6 1100.6C1481.4 1091 1482.5 1084.4 1484.6 1074.6C1487.3 1061.8 1491.5 1044.7 1494.6 1030.6C1497.5 1017.5 1499.9 1005 1502.6 992.6C1505.2 980.7 1507.9 969.1 1510.6 957.6C1513.2 946.4 1515.9 935.5 1518.6 924.6C1521.2 913.8 1523.7 903.6 1526.6 892.6C1529.7 880.9 1533.2 868.4 1536.6 856.6C1539.9 845.1 1543.2 832.2 1546.6 822.6C1549.2 815.3 1551.6 808.4 1554.6 803.6C1556.8 800.1 1559.3 795.8 1561.6 795.6C1563.4 795.4 1565.3 797.4 1566.7 799.5C1569.1 802.8 1570.3 808.5 1571.9 815C1574.5 825.7 1576.4 841.5 1578.5 857.8C1581.2 879.3 1584 907.1 1586 933C1588.1 960.7 1589 990.6 1590.4 1019.2C1591.9 1047.7 1593.4 1076.2 1594.6 1104.4C1595.9 1132.3 1596.9 1159.5 1598 1187.7C1599 1216.8 1600.1 1249.1 1601 1276.4C1601.7 1299.7 1602.4 1323.5 1603 1341.3C1603.4 1353.7 1603.9 1362.4 1604.3 1373C1604.8 1362.1 1605.2 1353.2 1605.8 1340.4C1606.7 1322.2 1608.2 1299.8 1609.4 1273.8C1611.1 1237.2 1612.7 1178.9 1614.3 1141.6C1615.5 1114.4 1616.7 1093.6 1617.9 1070.8C1619.1 1049.6 1620 1032.9 1621.5 1009.5C1623.4 978.1 1625.9 925.8 1628.7 899.4C1630.2 884.4 1632.1 872.8 1633.6 864.3C1634.5 859.3 1634.9 855.3 1636.1 852.6C1636.8 850.9 1637.7 849 1638.5 849C1639.3 849 1640.1 850.8 1640.7 852.4C1641.8 855.5 1642.2 859.9 1642.8 866.6C1644.1 882.1 1644.4 918.3 1645.3 944.7C1646.2 971.9 1647.5 1004.4 1648.3 1027.7C1648.8 1044.6 1649.2 1054.7 1649.5 1071.6C1650.1 1094.9 1650.3 1123.6 1650.8 1154.6C1651.5 1194.1 1652.7 1254.2 1653.6 1289.3C1654.2 1311.9 1654.9 1326.4 1655.5 1345C1656.1 1323.1 1656.9 1304.3 1657.4 1279.2C1658.1 1245.7 1658.5 1199.2 1659 1161.8C1659.5 1127.5 1659.8 1094.8 1660.3 1063.2C1660.8 1033.9 1661.2 1006 1661.9 978.6C1662.6 952.8 1663.5 925.8 1664.5 903.5C1665.2 885.4 1665.3 867.6 1667 854.6C1668.1 845.9 1668.8 833.7 1671.5 833C1673.7 832.5 1677.8 839.7 1680.6 844.3C1684.3 850.4 1687.4 859.2 1690.7 867C1694.2 875.3 1697.4 884.3 1700.8 892.8C1704.1 901 1707.4 909.2 1710.9 917C1714.2 924.3 1717.5 931.4 1721 938.2C1724.3 944.5 1728 950.4 1731.1 956.3C1734 961.9 1736.6 967.1 1739.2 973C1742 979.2 1744.9 986.2 1747.3 992.6C1749.6 998.8 1751.5 1004.8 1753.3 1010.8C1755.1 1016.4 1756.6 1020.5 1757.9 1027.4C1760 1038.5 1760.9 1056.9 1762.4 1071.3C1763.9 1085.4 1765.8 1104.1 1767 1112.9C1767.6 1117.1 1768 1119 1768.5 1122C1769.9 1117.6 1771.5 1113.9 1772.8 1108.9C1774.5 1102.4 1775.6 1093.3 1777.2 1086.4C1778.5 1080.5 1780.1 1075.5 1781.5 1070" stroke="#00e614" stroke-dasharray="19 9 6 9 6 9"/>
<path d="M1011.2 897.5C1015.8 910 1020.2 922.5 1025 935C1029.8 947.5 1035 960 1040 972.5C1045 985 1049.5 997.8 1055 1010C1060.4 1022 1066.4 1034.2 1072.5 1045C1078.1 1054.9 1083.5 1064.4 1090 1072.5C1096.1 1080.1 1103 1086.9 1110 1092.5C1116.4 1097.6 1123.2 1101.6 1130 1105C1136.5 1108.2 1142.9 1110.6 1150 1112.5C1157.8 1114.6 1167.1 1115.4 1175 1116.5C1182 1117.5 1189.1 1118 1195 1119C1199.7 1119.8 1203.5 1119.6 1207.5 1121.5C1212.2 1123.8 1217.3 1128.5 1221 1133C1224.8 1137.6 1227.4 1142.9 1230 1149C1233.2 1156.3 1235.7 1165.5 1238 1174C1240.3 1182.5 1242.1 1190.6 1244 1200C1246.2 1211 1248.1 1224.2 1250 1236C1251.8 1247.5 1253.4 1258.2 1255 1270C1256.7 1282.8 1258.2 1296.7 1260 1310C1261.8 1323.3 1263.7 1338.4 1266 1350C1267.8 1359.1 1268.9 1368.2 1272 1374C1274.1 1378.1 1277.5 1383.2 1280 1383C1282.6 1382.8 1284.9 1376.4 1287 1372C1289.7 1366.4 1291.3 1358.8 1294 1352C1296.9 1344.8 1300.7 1337.5 1304 1330C1307.4 1322.2 1310.2 1313.5 1314 1306C1317.6 1298.9 1321.5 1292.1 1326 1286C1330.3 1280.2 1335.1 1274.6 1340 1270C1344.5 1265.8 1349.1 1261.5 1354 1259C1358.5 1256.7 1363.4 1254.8 1368 1255C1372.7 1255.2 1378 1257.2 1382 1260C1386.1 1262.8 1389.1 1267.4 1392 1272C1395.2 1277.2 1397.5 1283.4 1400 1290C1402.9 1297.8 1405.4 1307.2 1408 1316C1410.7 1325.1 1413.4 1335.7 1416 1344C1418.1 1350.7 1419.1 1357.6 1422 1362C1424.2 1365.3 1427.5 1369.2 1430 1369C1432.6 1368.8 1435.2 1364 1437 1360C1439.7 1354.1 1440.3 1344.8 1442 1336C1444 1325.2 1446 1312.3 1448 1300C1450.1 1287 1452 1273.3 1454 1260C1456 1246.7 1458 1233.3 1460 1220C1462 1206.7 1464 1193.3 1466 1180C1468 1166.7 1469.8 1153.3 1472 1140C1474.2 1126.7 1476.8 1111.9 1479 1100C1480.8 1090.4 1481.9 1083.8 1484 1074C1486.7 1061.2 1490.9 1044.1 1494 1030C1496.9 1016.9 1499.3 1004.4 1502 992C1504.6 980.1 1507.3 968.5 1510 957C1512.6 945.8 1515.3 934.9 1518 924C1520.6 913.2 1523.1 903 1526 892C1529.1 880.3 1532.6 867.8 1536 856C1539.3 844.5 1542.6 831.6 1546 822C1548.6 814.7 1551 807.8 1554 803C1556.2 799.5 1558.7 795.2 1561 795C1562.8 794.8 1564.8 796.8 1566.3 798.9C1568.7 802.2 1569.9 807.9 1571.5 814.5C1574.2 825.2 1576.2 841.1 1578.3 857.5C1581.1 879.1 1584 907 1586 933C1588.1 960.7 1589 990.5 1590.5 1019.1C1591.9 1047.6 1593.5 1076 1594.7 1104.2C1596 1132.1 1597 1159.2 1598.1 1187.4C1599.2 1216.5 1600.3 1248.8 1601.1 1276C1601.9 1299.3 1602.5 1323 1603.2 1340.8C1603.6 1353.3 1604.1 1361.9 1604.5 1372.5C1605 1361.6 1605.4 1352.7 1606 1339.9C1606.9 1321.7 1608.4 1299.3 1609.6 1273.3C1611.2 1236.7 1612.8 1178.4 1614.5 1141.1C1615.7 1113.9 1616.8 1093.1 1618 1070.3C1619.2 1049.1 1620.2 1032.4 1621.6 1009C1623.5 977.6 1626 925.3 1628.7 898.9C1630.2 883.9 1632.1 872.3 1633.6 863.8C1634.5 858.8 1634.9 854.8 1636.1 852.1C1636.8 850.4 1637.7 848.5 1638.5 848.5C1639.2 848.5 1640.1 850.3 1640.6 851.9C1641.8 855 1642.1 859.4 1642.6 866.1C1644 881.6 1644.2 917.8 1645.1 944.3C1646 971.6 1647.3 1004 1648 1027.4C1648.5 1044.3 1648.9 1054.4 1649.2 1071.3C1649.7 1094.7 1649.9 1123.4 1650.5 1154.4C1651.2 1194 1652.3 1254.1 1653.2 1289.3C1653.8 1311.9 1654.4 1326.4 1655 1345C1655.6 1323.1 1656.4 1304.3 1656.9 1279.2C1657.6 1245.7 1658 1199.2 1658.5 1161.8C1659 1127.5 1659.3 1094.8 1659.8 1063.2C1660.3 1033.9 1660.7 1006 1661.4 978.6C1662.1 952.8 1663 925.8 1664 903.5C1664.7 885.4 1664.8 867.6 1666.5 854.6C1667.6 845.9 1668.3 833.7 1671 833C1673.2 832.5 1677.2 839.6 1680.1 844.3C1683.7 850.3 1686.8 859 1690.1 866.8C1693.6 875 1696.8 884 1700.2 892.4C1703.5 900.5 1706.8 908.7 1710.2 916.4C1713.5 923.7 1716.8 930.7 1720.3 937.4C1723.6 943.7 1727.3 949.5 1730.4 955.5C1733.3 961.1 1735.8 966.2 1738.4 972C1741.2 978.2 1744.1 985.1 1746.5 991.5C1748.7 997.6 1750.7 1003.7 1752.5 1009.6C1754.2 1015.2 1755.7 1019.2 1757 1026.1C1759.1 1037.1 1760 1055.3 1761.6 1069.7C1763.1 1083.6 1764.9 1102.2 1766.1 1111C1766.7 1115.1 1767.1 1117 1767.6 1120C1769.1 1115.8 1770.7 1112.2 1772.1 1107.4C1773.8 1101.2 1774.9 1092.4 1776.5 1085.7C1777.9 1080.1 1779.5 1075.2 1781 1070" stroke="#0088ff" stroke-dasharray="10 8"/>
</g>
<path d="M1079.7 1387.2v-6.5M1079.7 765.6v6.5M1148.6 1387.2v-12.3M1148.6 765.6v12.3M1217.6 1387.2v-6.5M1217.6 765.6v6.5M1286.5 1387.2v-12.3M1286.5 765.6v12.3M1355.5 1387.2v-6.5M1355.5 765.6v6.5M1424.4 1387.2v-12.3M1424.4 765.6v12.3M1493.4 1387.2v-6.5M1493.4 765.6v6.5M1562.3 1387.2v-12.3M1562.3 765.6v12.3M1631.3 1387.2v-6.5M1631.3 765.6v6.5M1700.2 1387.2v-12.3M1700.2 765.6v12.3M1769.2 1387.2v-6.5M1769.2 765.6v6.5M1010.7 1325h6.5M1781.6 1325h-6.5M1010.7 1262.9h12.3M1781.6 1262.9h-12.3M1010.7 1200.7h6.5M1781.6 1200.7h-6.5M1010.7 1138.6h12.3M1781.6 1138.6h-12.3M1010.7 1076.4h6.5M1781.6 1076.4h-6.5M1010.7 1014.2h12.3M1781.6 1014.2h-12.3M1010.7 952.1h6.5M1781.6 952.1h-6.5M1010.7 889.9h12.3M1781.6 889.9h-12.3M1010.7 827.8h6.5M1781.6 827.8h-6.5" stroke="#000" stroke-width="4.3" fill="none"/>
<rect x="1010.7" y="765.6" width="770.9" height="621.6" fill="none" stroke="#000" stroke-width="4.9"/>
<g font-family="'Liberation Serif',serif" font-weight="bold" fill="#000">
<g font-size="35" text-anchor="end">
<text x="998.2" y="1399">0.0</text>
<text x="998.2" y="1274.7">0.2</text>
<text x="998.2" y="1150.4">0.4</text>
<text x="998.2" y="1026">0.6</text>
<text x="998.2" y="901.7">0.8</text>
<text x="998.2" y="777.4">1.0</text>
</g>
<g font-size="35" text-anchor="middle">
<text x="1010.7" y="1428.7">0.2</text>
<text x="1148.6" y="1428.7">0.7</text>
<text x="1286.5" y="1428.7">1.2</text>
<text x="1424.4" y="1428.7">1.7</text>
<text x="1562.3" y="1428.7">2.2</text>
<text x="1700.2" y="1428.7">2.7</text>
</g>
<text x="1396.7" y="1466" font-size="38" text-anchor="middle">Frequency (THz)</text>
<text transform="translate(945.2 1063.4) rotate(-90)" font-size="38" text-anchor="middle" letter-spacing="0.2">Transmission (a.u.)</text>
<text x="1020.5" y="1367" font-size="41">(d)</text>
</g>
</g>
</svg>
</body>
</html>
